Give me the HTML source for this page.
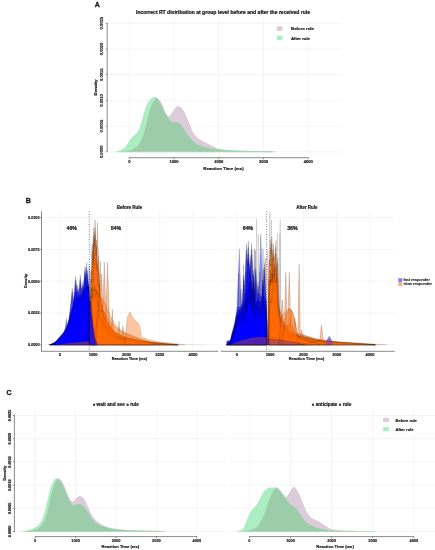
<!DOCTYPE html>
<html><head><meta charset="utf-8"><style>
html,body{margin:0;padding:0;background:#fff;width:435px;height:550px;overflow:hidden}
svg{display:block;will-change:transform}
</style></head><body>
<svg width="435" height="550" viewBox="0 0 435 550" shape-rendering="geometricPrecision">
<rect width="435" height="550" fill="#fff"/>
<line x1="129.3" y1="18" x2="129.3" y2="154" stroke="#ececec" stroke-width="0.6"/>
<line x1="174.02" y1="18" x2="174.02" y2="154" stroke="#ececec" stroke-width="0.6"/>
<line x1="218.74" y1="18" x2="218.74" y2="154" stroke="#ececec" stroke-width="0.6"/>
<line x1="263.46000000000004" y1="18" x2="263.46000000000004" y2="154" stroke="#ececec" stroke-width="0.6"/>
<line x1="308.18" y1="18" x2="308.18" y2="154" stroke="#ececec" stroke-width="0.6"/>
<line x1="110" y1="151.8" x2="342" y2="151.8" stroke="#ececec" stroke-width="0.6"/>
<line x1="110" y1="126.10000000000001" x2="342" y2="126.10000000000001" stroke="#ececec" stroke-width="0.6"/>
<line x1="110" y1="100.4" x2="342" y2="100.4" stroke="#ececec" stroke-width="0.6"/>
<line x1="110" y1="74.70000000000002" x2="342" y2="74.70000000000002" stroke="#ececec" stroke-width="0.6"/>
<line x1="110" y1="49.000000000000014" x2="342" y2="49.000000000000014" stroke="#ececec" stroke-width="0.6"/>
<line x1="110" y1="23.30000000000001" x2="342" y2="23.30000000000001" stroke="#ececec" stroke-width="0.6"/>
<clipPath id="cA"><path d="M121.00,151.70 C121.67,151.63 123.38,151.58 125.00,151.30 C126.62,151.02 128.83,150.68 130.70,150.00 C132.57,149.32 134.70,148.35 136.20,147.20 C137.70,146.05 138.55,145.05 139.70,143.10 C140.85,141.15 142.18,137.92 143.10,135.50 C144.02,133.08 144.52,131.13 145.20,128.60 C145.88,126.07 146.52,123.05 147.20,120.30 C147.88,117.55 148.48,114.85 149.30,112.10 C150.12,109.35 151.07,105.98 152.10,103.80 C153.13,101.62 154.58,99.87 155.50,99.00 C156.42,98.13 156.53,97.68 157.60,98.60 C158.67,99.52 160.62,102.13 161.90,104.50 C163.18,106.87 164.15,110.78 165.30,112.80 C166.45,114.82 167.65,116.60 168.80,116.60 C169.95,116.60 171.05,114.25 172.20,112.80 C173.35,111.35 174.67,108.93 175.70,107.90 C176.73,106.87 177.37,106.48 178.40,106.60 C179.43,106.72 180.75,107.23 181.90,108.60 C183.05,109.97 184.15,112.38 185.30,114.80 C186.45,117.22 187.65,120.33 188.80,123.10 C189.95,125.87 190.93,129.10 192.20,131.40 C193.47,133.70 194.55,135.17 196.40,136.90 C198.25,138.63 201.00,140.42 203.30,141.80 C205.60,143.18 208.25,144.27 210.20,145.20 C212.15,146.13 213.25,146.70 215.00,147.40 C216.75,148.10 216.30,148.78 220.70,149.40 C225.10,150.02 234.52,150.75 241.40,151.10 C248.28,151.45 256.40,151.40 262.00,151.50 C267.60,151.60 272.83,151.67 275.00,151.70 L275.00,151.80 L121.00,151.80 Z"/></clipPath>
<path d="M121.00,151.70 C121.67,151.63 123.38,151.58 125.00,151.30 C126.62,151.02 128.83,150.68 130.70,150.00 C132.57,149.32 134.70,148.35 136.20,147.20 C137.70,146.05 138.55,145.05 139.70,143.10 C140.85,141.15 142.18,137.92 143.10,135.50 C144.02,133.08 144.52,131.13 145.20,128.60 C145.88,126.07 146.52,123.05 147.20,120.30 C147.88,117.55 148.48,114.85 149.30,112.10 C150.12,109.35 151.07,105.98 152.10,103.80 C153.13,101.62 154.58,99.87 155.50,99.00 C156.42,98.13 156.53,97.68 157.60,98.60 C158.67,99.52 160.62,102.13 161.90,104.50 C163.18,106.87 164.15,110.78 165.30,112.80 C166.45,114.82 167.65,116.60 168.80,116.60 C169.95,116.60 171.05,114.25 172.20,112.80 C173.35,111.35 174.67,108.93 175.70,107.90 C176.73,106.87 177.37,106.48 178.40,106.60 C179.43,106.72 180.75,107.23 181.90,108.60 C183.05,109.97 184.15,112.38 185.30,114.80 C186.45,117.22 187.65,120.33 188.80,123.10 C189.95,125.87 190.93,129.10 192.20,131.40 C193.47,133.70 194.55,135.17 196.40,136.90 C198.25,138.63 201.00,140.42 203.30,141.80 C205.60,143.18 208.25,144.27 210.20,145.20 C212.15,146.13 213.25,146.70 215.00,147.40 C216.75,148.10 216.30,148.78 220.70,149.40 C225.10,150.02 234.52,150.75 241.40,151.10 C248.28,151.45 256.40,151.40 262.00,151.50 C267.60,151.60 272.83,151.67 275.00,151.70 L275.00,151.80 L121.00,151.80 Z" fill="#dccbd8" stroke="#c9b3c5" stroke-width="0.4"/>
<path d="M115.50,151.70 C115.92,151.65 116.62,151.92 118.00,151.40 C119.38,150.88 122.15,149.87 123.80,148.60 C125.45,147.33 126.52,145.63 127.90,143.80 C129.28,141.97 130.72,139.22 132.10,137.60 C133.48,135.98 134.93,135.60 136.20,134.10 C137.47,132.60 138.55,131.35 139.70,128.60 C140.85,125.85 142.07,121.05 143.10,117.60 C144.13,114.15 144.87,110.67 145.90,107.90 C146.93,105.13 148.28,102.62 149.30,101.00 C150.32,99.38 151.20,98.77 152.00,98.20 C152.80,97.63 153.27,97.58 154.10,97.60 C154.93,97.62 155.70,96.80 157.00,98.30 C158.30,99.80 160.40,103.85 161.90,106.60 C163.40,109.35 164.62,112.40 166.00,114.80 C167.38,117.20 168.82,119.73 170.20,121.00 C171.58,122.27 172.93,122.05 174.30,122.40 C175.67,122.75 177.02,122.30 178.40,123.10 C179.78,123.90 180.98,125.13 182.60,127.20 C184.22,129.27 186.03,132.85 188.10,135.50 C190.17,138.15 193.02,141.40 195.00,143.10 C196.98,144.80 198.33,144.97 200.00,145.70 C201.67,146.43 203.33,147.02 205.00,147.50 C206.67,147.98 207.50,148.18 210.00,148.60 C212.50,149.02 215.00,149.62 220.00,150.00 C225.00,150.38 231.43,150.62 240.00,150.90 C248.57,151.18 266.17,151.57 271.40,151.70 L271.40,151.80 L115.50,151.80 Z" fill="#aaeec2" stroke="#93d8aa" stroke-width="0.4"/>
<path d="M115.50,151.70 C115.92,151.65 116.62,151.92 118.00,151.40 C119.38,150.88 122.15,149.87 123.80,148.60 C125.45,147.33 126.52,145.63 127.90,143.80 C129.28,141.97 130.72,139.22 132.10,137.60 C133.48,135.98 134.93,135.60 136.20,134.10 C137.47,132.60 138.55,131.35 139.70,128.60 C140.85,125.85 142.07,121.05 143.10,117.60 C144.13,114.15 144.87,110.67 145.90,107.90 C146.93,105.13 148.28,102.62 149.30,101.00 C150.32,99.38 151.20,98.77 152.00,98.20 C152.80,97.63 153.27,97.58 154.10,97.60 C154.93,97.62 155.70,96.80 157.00,98.30 C158.30,99.80 160.40,103.85 161.90,106.60 C163.40,109.35 164.62,112.40 166.00,114.80 C167.38,117.20 168.82,119.73 170.20,121.00 C171.58,122.27 172.93,122.05 174.30,122.40 C175.67,122.75 177.02,122.30 178.40,123.10 C179.78,123.90 180.98,125.13 182.60,127.20 C184.22,129.27 186.03,132.85 188.10,135.50 C190.17,138.15 193.02,141.40 195.00,143.10 C196.98,144.80 198.33,144.97 200.00,145.70 C201.67,146.43 203.33,147.02 205.00,147.50 C206.67,147.98 207.50,148.18 210.00,148.60 C212.50,149.02 215.00,149.62 220.00,150.00 C225.00,150.38 231.43,150.62 240.00,150.90 C248.57,151.18 266.17,151.57 271.40,151.70 L271.40,151.80 L115.50,151.80 Z" fill="#9dccaa" clip-path="url(#cA)"/>
<line x1="107.2" y1="23.00000000000001" x2="107.2" y2="152.10000000000002" stroke="#3a3a3a" stroke-width="0.6"/>
<line x1="105.7" y1="151.8" x2="107.2" y2="151.8" stroke="#3a3a3a" stroke-width="0.5"/>
<text x="0" y="0" transform="translate(101.5,151.8) rotate(-90)" font-size="4.4" text-anchor="middle" dominant-baseline="central" textLength="12.6" lengthAdjust="spacingAndGlyphs" fill="#1a1a1a" stroke="#1a1a1a" stroke-width="0.198" font-family="Liberation Sans, sans-serif" font-weight="bold">0.0000</text>
<line x1="105.7" y1="126.10000000000001" x2="107.2" y2="126.10000000000001" stroke="#3a3a3a" stroke-width="0.5"/>
<text x="0" y="0" transform="translate(101.5,126.10000000000001) rotate(-90)" font-size="4.4" text-anchor="middle" dominant-baseline="central" textLength="12.6" lengthAdjust="spacingAndGlyphs" fill="#1a1a1a" stroke="#1a1a1a" stroke-width="0.198" font-family="Liberation Sans, sans-serif" font-weight="bold">0.0005</text>
<line x1="105.7" y1="100.4" x2="107.2" y2="100.4" stroke="#3a3a3a" stroke-width="0.5"/>
<text x="0" y="0" transform="translate(101.5,100.4) rotate(-90)" font-size="4.4" text-anchor="middle" dominant-baseline="central" textLength="12.6" lengthAdjust="spacingAndGlyphs" fill="#1a1a1a" stroke="#1a1a1a" stroke-width="0.198" font-family="Liberation Sans, sans-serif" font-weight="bold">0.0010</text>
<line x1="105.7" y1="74.70000000000002" x2="107.2" y2="74.70000000000002" stroke="#3a3a3a" stroke-width="0.5"/>
<text x="0" y="0" transform="translate(101.5,74.70000000000002) rotate(-90)" font-size="4.4" text-anchor="middle" dominant-baseline="central" textLength="12.6" lengthAdjust="spacingAndGlyphs" fill="#1a1a1a" stroke="#1a1a1a" stroke-width="0.198" font-family="Liberation Sans, sans-serif" font-weight="bold">0.0015</text>
<line x1="105.7" y1="49.000000000000014" x2="107.2" y2="49.000000000000014" stroke="#3a3a3a" stroke-width="0.5"/>
<text x="0" y="0" transform="translate(101.5,49.000000000000014) rotate(-90)" font-size="4.4" text-anchor="middle" dominant-baseline="central" textLength="12.6" lengthAdjust="spacingAndGlyphs" fill="#1a1a1a" stroke="#1a1a1a" stroke-width="0.198" font-family="Liberation Sans, sans-serif" font-weight="bold">0.0020</text>
<line x1="105.7" y1="23.30000000000001" x2="107.2" y2="23.30000000000001" stroke="#3a3a3a" stroke-width="0.5"/>
<text x="0" y="0" transform="translate(101.5,23.30000000000001) rotate(-90)" font-size="4.4" text-anchor="middle" dominant-baseline="central" textLength="12.6" lengthAdjust="spacingAndGlyphs" fill="#1a1a1a" stroke="#1a1a1a" stroke-width="0.198" font-family="Liberation Sans, sans-serif" font-weight="bold">0.0025</text>
<line x1="129.0" y1="157.7" x2="308.48" y2="157.7" stroke="#3a3a3a" stroke-width="0.6"/>
<line x1="129.3" y1="157.7" x2="129.3" y2="159.3" stroke="#3a3a3a" stroke-width="0.5"/>
<text x="129.3" y="161.7" font-size="4.1" text-anchor="middle" dominant-baseline="central" fill="#1a1a1a" stroke="#1a1a1a" stroke-width="0.184" font-family="Liberation Sans, sans-serif" font-weight="bold">0</text>
<line x1="174.02" y1="157.7" x2="174.02" y2="159.3" stroke="#3a3a3a" stroke-width="0.5"/>
<text x="174.02" y="161.7" font-size="4.1" text-anchor="middle" dominant-baseline="central" fill="#1a1a1a" stroke="#1a1a1a" stroke-width="0.184" font-family="Liberation Sans, sans-serif" font-weight="bold">1000</text>
<line x1="218.74" y1="157.7" x2="218.74" y2="159.3" stroke="#3a3a3a" stroke-width="0.5"/>
<text x="218.74" y="161.7" font-size="4.1" text-anchor="middle" dominant-baseline="central" fill="#1a1a1a" stroke="#1a1a1a" stroke-width="0.184" font-family="Liberation Sans, sans-serif" font-weight="bold">2000</text>
<line x1="263.46000000000004" y1="157.7" x2="263.46000000000004" y2="159.3" stroke="#3a3a3a" stroke-width="0.5"/>
<text x="263.46000000000004" y="161.7" font-size="4.1" text-anchor="middle" dominant-baseline="central" fill="#1a1a1a" stroke="#1a1a1a" stroke-width="0.184" font-family="Liberation Sans, sans-serif" font-weight="bold">3000</text>
<line x1="308.18" y1="157.7" x2="308.18" y2="159.3" stroke="#3a3a3a" stroke-width="0.5"/>
<text x="308.18" y="161.7" font-size="4.1" text-anchor="middle" dominant-baseline="central" fill="#1a1a1a" stroke="#1a1a1a" stroke-width="0.184" font-family="Liberation Sans, sans-serif" font-weight="bold">4000</text>
<text x="0" y="0" transform="translate(95,87.5) rotate(-90)" font-size="4.3" text-anchor="middle" dominant-baseline="central" textLength="16" lengthAdjust="spacingAndGlyphs" fill="#1a1a1a" stroke="#1a1a1a" stroke-width="0.193" font-family="Liberation Sans, sans-serif" font-weight="bold">Density</text>
<text x="223.5" y="168.2" font-size="4.3" text-anchor="middle" dominant-baseline="central" textLength="40.3" lengthAdjust="spacingAndGlyphs" fill="#1a1a1a" stroke="#1a1a1a" stroke-width="0.193" font-family="Liberation Sans, sans-serif" font-weight="bold">Reaction Time (ms)</text>
<text x="223" y="12" font-size="5.0" text-anchor="middle" dominant-baseline="central" textLength="174" lengthAdjust="spacingAndGlyphs" fill="#1a1a1a" stroke="#1a1a1a" stroke-width="0.225" font-family="Liberation Sans, sans-serif" font-weight="bold">Incorrect RT distribution at group level before and after the received rule</text>
<text x="97.2" y="4.5" font-size="7.0" text-anchor="middle" dominant-baseline="central" fill="#1a1a1a" stroke="#1a1a1a" stroke-width="0.315" font-family="Liberation Sans, sans-serif" font-weight="bold">A</text>
<rect x="272" y="24.2" width="50" height="18.2" fill="#fff"/>
<rect x="276.8" y="26.3" width="5.7" height="4.6" fill="#dccbd8"/>
<rect x="276.8" y="35.6" width="5.7" height="4.6" fill="#aaeec2"/>
<text x="291" y="28.6" font-size="4.3" text-anchor="start" dominant-baseline="central" textLength="23" lengthAdjust="spacingAndGlyphs" fill="#1a1a1a" stroke="#1a1a1a" stroke-width="0.193" font-family="Liberation Sans, sans-serif" font-weight="bold">Before rule</text>
<text x="291" y="38.0" font-size="4.3" text-anchor="start" dominant-baseline="central" textLength="19" lengthAdjust="spacingAndGlyphs" fill="#1a1a1a" stroke="#1a1a1a" stroke-width="0.193" font-family="Liberation Sans, sans-serif" font-weight="bold">After rule</text>
<line x1="35.2" y1="408.7" x2="35.2" y2="534" stroke="#ececec" stroke-width="0.6"/>
<line x1="75.6" y1="408.7" x2="75.6" y2="534" stroke="#ececec" stroke-width="0.6"/>
<line x1="116.0" y1="408.7" x2="116.0" y2="534" stroke="#ececec" stroke-width="0.6"/>
<line x1="156.39999999999998" y1="408.7" x2="156.39999999999998" y2="534" stroke="#ececec" stroke-width="0.6"/>
<line x1="196.8" y1="408.7" x2="196.8" y2="534" stroke="#ececec" stroke-width="0.6"/>
<line x1="15.5" y1="531.5" x2="226.6" y2="531.5" stroke="#ececec" stroke-width="0.6"/>
<line x1="15.5" y1="508.3" x2="226.6" y2="508.3" stroke="#ececec" stroke-width="0.6"/>
<line x1="15.5" y1="485.1" x2="226.6" y2="485.1" stroke="#ececec" stroke-width="0.6"/>
<line x1="15.5" y1="461.9" x2="226.6" y2="461.9" stroke="#ececec" stroke-width="0.6"/>
<line x1="15.5" y1="438.7" x2="226.6" y2="438.7" stroke="#ececec" stroke-width="0.6"/>
<line x1="15.5" y1="415.5" x2="226.6" y2="415.5" stroke="#ececec" stroke-width="0.6"/>
<line x1="249.4" y1="408.7" x2="249.4" y2="534" stroke="#ececec" stroke-width="0.6"/>
<line x1="290.5" y1="408.7" x2="290.5" y2="534" stroke="#ececec" stroke-width="0.6"/>
<line x1="331.6" y1="408.7" x2="331.6" y2="534" stroke="#ececec" stroke-width="0.6"/>
<line x1="372.70000000000005" y1="408.7" x2="372.70000000000005" y2="534" stroke="#ececec" stroke-width="0.6"/>
<line x1="413.8" y1="408.7" x2="413.8" y2="534" stroke="#ececec" stroke-width="0.6"/>
<line x1="229.4" y1="531.5" x2="435" y2="531.5" stroke="#ececec" stroke-width="0.6"/>
<line x1="229.4" y1="508.3" x2="435" y2="508.3" stroke="#ececec" stroke-width="0.6"/>
<line x1="229.4" y1="485.1" x2="435" y2="485.1" stroke="#ececec" stroke-width="0.6"/>
<line x1="229.4" y1="461.9" x2="435" y2="461.9" stroke="#ececec" stroke-width="0.6"/>
<line x1="229.4" y1="438.7" x2="435" y2="438.7" stroke="#ececec" stroke-width="0.6"/>
<line x1="229.4" y1="415.5" x2="435" y2="415.5" stroke="#ececec" stroke-width="0.6"/>
<clipPath id="cCL"><path d="M26.00,531.40 C26.83,531.32 29.33,531.20 31.00,530.90 C32.67,530.60 34.33,530.38 36.00,529.60 C37.67,528.82 39.50,527.88 41.00,526.20 C42.50,524.52 43.75,522.62 45.00,519.50 C46.25,516.38 47.45,511.67 48.50,507.50 C49.55,503.33 50.28,498.42 51.30,494.50 C52.32,490.58 53.38,486.58 54.60,484.00 C55.82,481.42 57.28,479.17 58.60,479.00 C59.92,478.83 61.27,481.00 62.50,483.00 C63.73,485.00 64.92,488.50 66.00,491.00 C67.08,493.50 67.87,496.17 69.00,498.00 C70.13,499.83 71.60,501.90 72.80,502.00 C74.00,502.10 74.95,499.55 76.20,498.60 C77.45,497.65 78.92,496.07 80.30,496.30 C81.68,496.53 83.23,498.12 84.50,500.00 C85.77,501.88 86.63,504.95 87.90,507.60 C89.17,510.25 90.48,513.48 92.10,515.90 C93.72,518.32 95.30,520.27 97.60,522.10 C99.90,523.93 102.92,525.75 105.90,526.90 C108.88,528.05 111.48,528.43 115.50,529.00 C119.52,529.57 124.25,529.97 130.00,530.30 C135.75,530.63 144.17,530.82 150.00,531.00 C155.83,531.18 162.50,531.33 165.00,531.40 L165.00,531.50 L26.00,531.50 Z"/></clipPath>
<path d="M26.00,531.40 C26.83,531.32 29.33,531.20 31.00,530.90 C32.67,530.60 34.33,530.38 36.00,529.60 C37.67,528.82 39.50,527.88 41.00,526.20 C42.50,524.52 43.75,522.62 45.00,519.50 C46.25,516.38 47.45,511.67 48.50,507.50 C49.55,503.33 50.28,498.42 51.30,494.50 C52.32,490.58 53.38,486.58 54.60,484.00 C55.82,481.42 57.28,479.17 58.60,479.00 C59.92,478.83 61.27,481.00 62.50,483.00 C63.73,485.00 64.92,488.50 66.00,491.00 C67.08,493.50 67.87,496.17 69.00,498.00 C70.13,499.83 71.60,501.90 72.80,502.00 C74.00,502.10 74.95,499.55 76.20,498.60 C77.45,497.65 78.92,496.07 80.30,496.30 C81.68,496.53 83.23,498.12 84.50,500.00 C85.77,501.88 86.63,504.95 87.90,507.60 C89.17,510.25 90.48,513.48 92.10,515.90 C93.72,518.32 95.30,520.27 97.60,522.10 C99.90,523.93 102.92,525.75 105.90,526.90 C108.88,528.05 111.48,528.43 115.50,529.00 C119.52,529.57 124.25,529.97 130.00,530.30 C135.75,530.63 144.17,530.82 150.00,531.00 C155.83,531.18 162.50,531.33 165.00,531.40 L165.00,531.50 L26.00,531.50 Z" fill="#dccbd8" stroke="#c9b3c5" stroke-width="0.4"/>
<path d="M22.80,531.40 C23.67,531.27 26.17,531.07 28.00,530.60 C29.83,530.13 31.92,529.62 33.80,528.60 C35.68,527.58 37.70,526.45 39.30,524.50 C40.90,522.55 42.13,520.23 43.40,516.90 C44.67,513.57 45.85,508.65 46.90,504.50 C47.95,500.35 48.67,495.68 49.70,492.00 C50.73,488.32 51.85,484.68 53.10,482.40 C54.35,480.12 55.82,478.30 57.20,478.30 C58.58,478.30 60.02,480.12 61.40,482.40 C62.78,484.68 64.23,489.02 65.50,492.00 C66.77,494.98 67.82,498.08 69.00,500.30 C70.18,502.52 71.28,504.58 72.60,505.30 C73.92,506.02 75.62,504.80 76.90,504.60 C78.18,504.40 79.15,503.72 80.30,504.10 C81.45,504.48 82.53,505.52 83.80,506.90 C85.07,508.28 86.52,510.33 87.90,512.40 C89.28,514.47 90.48,517.35 92.10,519.30 C93.72,521.25 95.30,522.72 97.60,524.10 C99.90,525.48 102.92,526.72 105.90,527.60 C108.88,528.48 111.48,528.87 115.50,529.40 C119.52,529.93 122.58,530.47 130.00,530.80 C137.42,531.13 155.00,531.30 160.00,531.40 L160.00,531.50 L22.80,531.50 Z" fill="#aaeec2" stroke="#93d8aa" stroke-width="0.4"/>
<path d="M22.80,531.40 C23.67,531.27 26.17,531.07 28.00,530.60 C29.83,530.13 31.92,529.62 33.80,528.60 C35.68,527.58 37.70,526.45 39.30,524.50 C40.90,522.55 42.13,520.23 43.40,516.90 C44.67,513.57 45.85,508.65 46.90,504.50 C47.95,500.35 48.67,495.68 49.70,492.00 C50.73,488.32 51.85,484.68 53.10,482.40 C54.35,480.12 55.82,478.30 57.20,478.30 C58.58,478.30 60.02,480.12 61.40,482.40 C62.78,484.68 64.23,489.02 65.50,492.00 C66.77,494.98 67.82,498.08 69.00,500.30 C70.18,502.52 71.28,504.58 72.60,505.30 C73.92,506.02 75.62,504.80 76.90,504.60 C78.18,504.40 79.15,503.72 80.30,504.10 C81.45,504.48 82.53,505.52 83.80,506.90 C85.07,508.28 86.52,510.33 87.90,512.40 C89.28,514.47 90.48,517.35 92.10,519.30 C93.72,521.25 95.30,522.72 97.60,524.10 C99.90,525.48 102.92,526.72 105.90,527.60 C108.88,528.48 111.48,528.87 115.50,529.40 C119.52,529.93 122.58,530.47 130.00,530.80 C137.42,531.13 155.00,531.30 160.00,531.40 L160.00,531.50 L22.80,531.50 Z" fill="#9dccaa" clip-path="url(#cCL)"/>
<clipPath id="cCR"><path d="M244.00,531.40 C244.43,531.28 245.27,531.02 246.60,530.70 C247.93,530.38 250.17,530.18 252.00,529.50 C253.83,528.82 255.75,528.70 257.60,526.60 C259.45,524.50 261.50,520.35 263.10,516.90 C264.70,513.45 265.93,509.35 267.20,505.90 C268.47,502.45 269.55,498.97 270.70,496.20 C271.85,493.43 273.07,490.68 274.10,489.30 C275.13,487.92 276.00,487.82 276.90,487.90 C277.80,487.98 278.65,488.87 279.50,489.80 C280.35,490.73 281.22,492.33 282.00,493.50 C282.78,494.67 283.45,496.18 284.20,496.80 C284.95,497.42 285.58,497.87 286.50,497.20 C287.42,496.53 288.48,494.47 289.70,492.80 C290.92,491.13 292.43,487.32 293.80,487.20 C295.17,487.08 296.52,489.68 297.90,492.10 C299.28,494.52 300.72,498.48 302.10,501.70 C303.48,504.92 304.60,508.63 306.20,511.40 C307.80,514.17 309.63,516.58 311.70,518.30 C313.77,520.02 316.53,520.55 318.60,521.70 C320.67,522.85 322.03,523.93 324.10,525.20 C326.17,526.47 328.35,528.38 331.00,529.30 C333.65,530.22 336.00,530.37 340.00,530.70 C344.00,531.03 352.50,531.20 355.00,531.30 L355.00,531.50 L244.00,531.50 Z"/></clipPath>
<path d="M244.00,531.40 C244.43,531.28 245.27,531.02 246.60,530.70 C247.93,530.38 250.17,530.18 252.00,529.50 C253.83,528.82 255.75,528.70 257.60,526.60 C259.45,524.50 261.50,520.35 263.10,516.90 C264.70,513.45 265.93,509.35 267.20,505.90 C268.47,502.45 269.55,498.97 270.70,496.20 C271.85,493.43 273.07,490.68 274.10,489.30 C275.13,487.92 276.00,487.82 276.90,487.90 C277.80,487.98 278.65,488.87 279.50,489.80 C280.35,490.73 281.22,492.33 282.00,493.50 C282.78,494.67 283.45,496.18 284.20,496.80 C284.95,497.42 285.58,497.87 286.50,497.20 C287.42,496.53 288.48,494.47 289.70,492.80 C290.92,491.13 292.43,487.32 293.80,487.20 C295.17,487.08 296.52,489.68 297.90,492.10 C299.28,494.52 300.72,498.48 302.10,501.70 C303.48,504.92 304.60,508.63 306.20,511.40 C307.80,514.17 309.63,516.58 311.70,518.30 C313.77,520.02 316.53,520.55 318.60,521.70 C320.67,522.85 322.03,523.93 324.10,525.20 C326.17,526.47 328.35,528.38 331.00,529.30 C333.65,530.22 336.00,530.37 340.00,530.70 C344.00,531.03 352.50,531.20 355.00,531.30 L355.00,531.50 L244.00,531.50 Z" fill="#dccbd8" stroke="#c9b3c5" stroke-width="0.4"/>
<path d="M237.50,531.50 C237.92,531.38 238.95,531.40 240.00,530.80 C241.05,530.20 242.48,529.98 243.80,527.90 C245.12,525.82 246.52,521.28 247.90,518.30 C249.28,515.32 250.72,512.07 252.10,510.00 C253.48,507.93 254.93,507.52 256.20,505.90 C257.47,504.28 258.43,502.60 259.70,500.30 C260.97,498.00 262.43,494.05 263.80,492.10 C265.17,490.15 266.62,489.32 267.90,488.60 C269.18,487.88 270.47,487.92 271.50,487.80 C272.53,487.68 273.20,487.83 274.10,487.90 C275.00,487.97 275.92,487.65 276.90,488.20 C277.88,488.75 278.80,489.98 280.00,491.20 C281.20,492.42 282.72,493.57 284.10,495.50 C285.48,497.43 286.92,501.03 288.30,502.80 C289.68,504.57 291.02,505.02 292.40,506.10 C293.78,507.18 295.22,507.73 296.60,509.30 C297.98,510.87 299.33,513.55 300.70,515.50 C302.07,517.45 303.20,519.38 304.80,521.00 C306.40,522.62 308.23,524.05 310.30,525.20 C312.37,526.35 314.67,527.10 317.20,527.90 C319.73,528.70 322.50,529.48 325.50,530.00 C328.50,530.52 326.95,530.75 335.20,531.00 C343.45,531.25 368.37,531.42 375.00,531.50 L375.00,531.50 L237.50,531.50 Z" fill="#aaeec2" stroke="#93d8aa" stroke-width="0.4"/>
<path d="M237.50,531.50 C237.92,531.38 238.95,531.40 240.00,530.80 C241.05,530.20 242.48,529.98 243.80,527.90 C245.12,525.82 246.52,521.28 247.90,518.30 C249.28,515.32 250.72,512.07 252.10,510.00 C253.48,507.93 254.93,507.52 256.20,505.90 C257.47,504.28 258.43,502.60 259.70,500.30 C260.97,498.00 262.43,494.05 263.80,492.10 C265.17,490.15 266.62,489.32 267.90,488.60 C269.18,487.88 270.47,487.92 271.50,487.80 C272.53,487.68 273.20,487.83 274.10,487.90 C275.00,487.97 275.92,487.65 276.90,488.20 C277.88,488.75 278.80,489.98 280.00,491.20 C281.20,492.42 282.72,493.57 284.10,495.50 C285.48,497.43 286.92,501.03 288.30,502.80 C289.68,504.57 291.02,505.02 292.40,506.10 C293.78,507.18 295.22,507.73 296.60,509.30 C297.98,510.87 299.33,513.55 300.70,515.50 C302.07,517.45 303.20,519.38 304.80,521.00 C306.40,522.62 308.23,524.05 310.30,525.20 C312.37,526.35 314.67,527.10 317.20,527.90 C319.73,528.70 322.50,529.48 325.50,530.00 C328.50,530.52 326.95,530.75 335.20,531.00 C343.45,531.25 368.37,531.42 375.00,531.50 L375.00,531.50 L237.50,531.50 Z" fill="#9dccaa" clip-path="url(#cCR)"/>
<line x1="14.4" y1="415.2" x2="14.4" y2="531.8" stroke="#3a3a3a" stroke-width="0.6"/>
<line x1="12.9" y1="531.5" x2="14.4" y2="531.5" stroke="#3a3a3a" stroke-width="0.5"/>
<text x="0" y="0" transform="translate(9.7,531.5) rotate(-90)" font-size="4.2" text-anchor="middle" dominant-baseline="central" textLength="11.5" lengthAdjust="spacingAndGlyphs" fill="#1a1a1a" stroke="#1a1a1a" stroke-width="0.189" font-family="Liberation Sans, sans-serif" font-weight="bold">0.0000</text>
<line x1="12.9" y1="508.3" x2="14.4" y2="508.3" stroke="#3a3a3a" stroke-width="0.5"/>
<text x="0" y="0" transform="translate(9.7,508.3) rotate(-90)" font-size="4.2" text-anchor="middle" dominant-baseline="central" textLength="11.5" lengthAdjust="spacingAndGlyphs" fill="#1a1a1a" stroke="#1a1a1a" stroke-width="0.189" font-family="Liberation Sans, sans-serif" font-weight="bold">0.0005</text>
<line x1="12.9" y1="485.1" x2="14.4" y2="485.1" stroke="#3a3a3a" stroke-width="0.5"/>
<text x="0" y="0" transform="translate(9.7,485.1) rotate(-90)" font-size="4.2" text-anchor="middle" dominant-baseline="central" textLength="11.5" lengthAdjust="spacingAndGlyphs" fill="#1a1a1a" stroke="#1a1a1a" stroke-width="0.189" font-family="Liberation Sans, sans-serif" font-weight="bold">0.0010</text>
<line x1="12.9" y1="461.9" x2="14.4" y2="461.9" stroke="#3a3a3a" stroke-width="0.5"/>
<text x="0" y="0" transform="translate(9.7,461.9) rotate(-90)" font-size="4.2" text-anchor="middle" dominant-baseline="central" textLength="11.5" lengthAdjust="spacingAndGlyphs" fill="#1a1a1a" stroke="#1a1a1a" stroke-width="0.189" font-family="Liberation Sans, sans-serif" font-weight="bold">0.0015</text>
<line x1="12.9" y1="438.7" x2="14.4" y2="438.7" stroke="#3a3a3a" stroke-width="0.5"/>
<text x="0" y="0" transform="translate(9.7,438.7) rotate(-90)" font-size="4.2" text-anchor="middle" dominant-baseline="central" textLength="11.5" lengthAdjust="spacingAndGlyphs" fill="#1a1a1a" stroke="#1a1a1a" stroke-width="0.189" font-family="Liberation Sans, sans-serif" font-weight="bold">0.0020</text>
<line x1="12.9" y1="415.5" x2="14.4" y2="415.5" stroke="#3a3a3a" stroke-width="0.5"/>
<text x="0" y="0" transform="translate(9.7,415.5) rotate(-90)" font-size="4.2" text-anchor="middle" dominant-baseline="central" textLength="11.5" lengthAdjust="spacingAndGlyphs" fill="#1a1a1a" stroke="#1a1a1a" stroke-width="0.189" font-family="Liberation Sans, sans-serif" font-weight="bold">0.0025</text>
<text x="0" y="0" transform="translate(4.6,473.3) rotate(-90)" font-size="4.0" text-anchor="middle" dominant-baseline="central" textLength="15" lengthAdjust="spacingAndGlyphs" fill="#1a1a1a" stroke="#1a1a1a" stroke-width="0.18" font-family="Liberation Sans, sans-serif" font-weight="bold">Density</text>
<line x1="34.900000000000006" y1="536.6" x2="197.10000000000002" y2="536.6" stroke="#3a3a3a" stroke-width="0.6"/>
<line x1="35.2" y1="536.6" x2="35.2" y2="538.2" stroke="#3a3a3a" stroke-width="0.5"/>
<text x="35.2" y="540.7" font-size="3.9" text-anchor="middle" dominant-baseline="central" fill="#1a1a1a" stroke="#1a1a1a" stroke-width="0.175" font-family="Liberation Sans, sans-serif" font-weight="bold">0</text>
<line x1="75.6" y1="536.6" x2="75.6" y2="538.2" stroke="#3a3a3a" stroke-width="0.5"/>
<text x="75.6" y="540.7" font-size="3.9" text-anchor="middle" dominant-baseline="central" fill="#1a1a1a" stroke="#1a1a1a" stroke-width="0.175" font-family="Liberation Sans, sans-serif" font-weight="bold">1000</text>
<line x1="116.0" y1="536.6" x2="116.0" y2="538.2" stroke="#3a3a3a" stroke-width="0.5"/>
<text x="116.0" y="540.7" font-size="3.9" text-anchor="middle" dominant-baseline="central" fill="#1a1a1a" stroke="#1a1a1a" stroke-width="0.175" font-family="Liberation Sans, sans-serif" font-weight="bold">2000</text>
<line x1="156.39999999999998" y1="536.6" x2="156.39999999999998" y2="538.2" stroke="#3a3a3a" stroke-width="0.5"/>
<text x="156.39999999999998" y="540.7" font-size="3.9" text-anchor="middle" dominant-baseline="central" fill="#1a1a1a" stroke="#1a1a1a" stroke-width="0.175" font-family="Liberation Sans, sans-serif" font-weight="bold">3000</text>
<line x1="196.8" y1="536.6" x2="196.8" y2="538.2" stroke="#3a3a3a" stroke-width="0.5"/>
<text x="196.8" y="540.7" font-size="3.9" text-anchor="middle" dominant-baseline="central" fill="#1a1a1a" stroke="#1a1a1a" stroke-width="0.175" font-family="Liberation Sans, sans-serif" font-weight="bold">4000</text>
<text x="120.3" y="546.3" font-size="4.0" text-anchor="middle" dominant-baseline="central" textLength="37.5" lengthAdjust="spacingAndGlyphs" fill="#1a1a1a" stroke="#1a1a1a" stroke-width="0.18" font-family="Liberation Sans, sans-serif" font-weight="bold">Reaction Time (ms)</text>
<line x1="249.1" y1="536.6" x2="414.1" y2="536.6" stroke="#3a3a3a" stroke-width="0.6"/>
<line x1="249.4" y1="536.6" x2="249.4" y2="538.2" stroke="#3a3a3a" stroke-width="0.5"/>
<text x="249.4" y="540.7" font-size="3.9" text-anchor="middle" dominant-baseline="central" fill="#1a1a1a" stroke="#1a1a1a" stroke-width="0.175" font-family="Liberation Sans, sans-serif" font-weight="bold">0</text>
<line x1="290.5" y1="536.6" x2="290.5" y2="538.2" stroke="#3a3a3a" stroke-width="0.5"/>
<text x="290.5" y="540.7" font-size="3.9" text-anchor="middle" dominant-baseline="central" fill="#1a1a1a" stroke="#1a1a1a" stroke-width="0.175" font-family="Liberation Sans, sans-serif" font-weight="bold">1000</text>
<line x1="331.6" y1="536.6" x2="331.6" y2="538.2" stroke="#3a3a3a" stroke-width="0.5"/>
<text x="331.6" y="540.7" font-size="3.9" text-anchor="middle" dominant-baseline="central" fill="#1a1a1a" stroke="#1a1a1a" stroke-width="0.175" font-family="Liberation Sans, sans-serif" font-weight="bold">2000</text>
<line x1="372.70000000000005" y1="536.6" x2="372.70000000000005" y2="538.2" stroke="#3a3a3a" stroke-width="0.5"/>
<text x="372.70000000000005" y="540.7" font-size="3.9" text-anchor="middle" dominant-baseline="central" fill="#1a1a1a" stroke="#1a1a1a" stroke-width="0.175" font-family="Liberation Sans, sans-serif" font-weight="bold">3000</text>
<line x1="413.8" y1="536.6" x2="413.8" y2="538.2" stroke="#3a3a3a" stroke-width="0.5"/>
<text x="413.8" y="540.7" font-size="3.9" text-anchor="middle" dominant-baseline="central" fill="#1a1a1a" stroke="#1a1a1a" stroke-width="0.175" font-family="Liberation Sans, sans-serif" font-weight="bold">4000</text>
<text x="335" y="546.3" font-size="4.0" text-anchor="middle" dominant-baseline="central" textLength="37.5" lengthAdjust="spacingAndGlyphs" fill="#1a1a1a" stroke="#1a1a1a" stroke-width="0.18" font-family="Liberation Sans, sans-serif" font-weight="bold">Reaction Time (ms)</text>
<text x="115.8" y="404" font-size="4.7" text-anchor="middle" dominant-baseline="central" textLength="46.3" lengthAdjust="spacingAndGlyphs" fill="#1a1a1a" stroke="#1a1a1a" stroke-width="0.211" font-family="Liberation Sans, sans-serif" font-weight="bold">« wait and see » rule</text>
<text x="331.5" y="404" font-size="4.7" text-anchor="middle" dominant-baseline="central" textLength="39.5" lengthAdjust="spacingAndGlyphs" fill="#1a1a1a" stroke="#1a1a1a" stroke-width="0.211" font-family="Liberation Sans, sans-serif" font-weight="bold">« anticipate » rule</text>
<text x="9.0" y="392.3" font-size="7.0" text-anchor="middle" dominant-baseline="central" fill="#1a1a1a" stroke="#1a1a1a" stroke-width="0.315" font-family="Liberation Sans, sans-serif" font-weight="bold">C</text>
<rect x="378" y="416" width="46" height="17.6" fill="#fff"/>
<rect x="383.1" y="417.7" width="5.9" height="4.2" fill="#dccbd8"/>
<rect x="383.1" y="427.1" width="5.9" height="4.2" fill="#aaeec2"/>
<text x="395.5" y="420.1" font-size="4.2" text-anchor="start" dominant-baseline="central" textLength="21.3" lengthAdjust="spacingAndGlyphs" fill="#1a1a1a" stroke="#1a1a1a" stroke-width="0.189" font-family="Liberation Sans, sans-serif" font-weight="bold">Before rule</text>
<text x="395.5" y="429.4" font-size="4.2" text-anchor="start" dominant-baseline="central" textLength="18" lengthAdjust="spacingAndGlyphs" fill="#1a1a1a" stroke="#1a1a1a" stroke-width="0.189" font-family="Liberation Sans, sans-serif" font-weight="bold">After rule</text>
<line x1="59.8" y1="211.5" x2="59.8" y2="351" stroke="#ececec" stroke-width="0.6"/>
<line x1="93.1" y1="211.5" x2="93.1" y2="351" stroke="#ececec" stroke-width="0.6"/>
<line x1="126.39999999999999" y1="211.5" x2="126.39999999999999" y2="351" stroke="#ececec" stroke-width="0.6"/>
<line x1="159.7" y1="211.5" x2="159.7" y2="351" stroke="#ececec" stroke-width="0.6"/>
<line x1="193.0" y1="211.5" x2="193.0" y2="351" stroke="#ececec" stroke-width="0.6"/>
<line x1="41.5" y1="344.8" x2="217.5" y2="344.8" stroke="#ececec" stroke-width="0.6"/>
<line x1="41.5" y1="313.0" x2="217.5" y2="313.0" stroke="#ececec" stroke-width="0.6"/>
<line x1="41.5" y1="281.2" x2="217.5" y2="281.2" stroke="#ececec" stroke-width="0.6"/>
<line x1="41.5" y1="249.4" x2="217.5" y2="249.4" stroke="#ececec" stroke-width="0.6"/>
<line x1="41.5" y1="217.60000000000002" x2="217.5" y2="217.60000000000002" stroke="#ececec" stroke-width="0.6"/>
<line x1="236.8" y1="211.5" x2="236.8" y2="351" stroke="#ececec" stroke-width="0.6"/>
<line x1="270.1" y1="211.5" x2="270.1" y2="351" stroke="#ececec" stroke-width="0.6"/>
<line x1="303.4" y1="211.5" x2="303.4" y2="351" stroke="#ececec" stroke-width="0.6"/>
<line x1="336.7" y1="211.5" x2="336.7" y2="351" stroke="#ececec" stroke-width="0.6"/>
<line x1="370.0" y1="211.5" x2="370.0" y2="351" stroke="#ececec" stroke-width="0.6"/>
<line x1="221" y1="344.8" x2="394.5" y2="344.8" stroke="#ececec" stroke-width="0.6"/>
<line x1="221" y1="313.0" x2="394.5" y2="313.0" stroke="#ececec" stroke-width="0.6"/>
<line x1="221" y1="281.2" x2="394.5" y2="281.2" stroke="#ececec" stroke-width="0.6"/>
<line x1="221" y1="249.4" x2="394.5" y2="249.4" stroke="#ececec" stroke-width="0.6"/>
<line x1="221" y1="217.60000000000002" x2="394.5" y2="217.60000000000002" stroke="#ececec" stroke-width="0.6"/>
<path d="M255.2,344.8 L255.6,331.1 L255.9,303.2 L256.2,265.2 L256.6,218.6 L256.9,265.2 L257.3,303.2 L257.6,331.1 L258.0,344.8 Z" fill="#cccccc" fill-opacity="0.3" stroke="#000" stroke-opacity="0.39" stroke-width="0.28" stroke-linejoin="round"/>
<path d="M256.7,344.8 L257.0,336.4 L257.3,319.2 L257.7,295.9 L258.0,267.3 L258.3,234.0 L258.6,267.3 L258.9,295.9 L259.3,319.2 L259.6,336.4 L259.9,344.8 Z" fill="#cccccc" fill-opacity="0.3" stroke="#000" stroke-opacity="0.39" stroke-width="0.28" stroke-linejoin="round"/>
<path d="M268.6,344.8 L268.9,327.2 L269.3,290.2 L269.6,241.2 L269.8,212.5 L270.0,241.2 L270.3,290.2 L270.7,327.2 L271.0,344.8 Z" fill="#cccccc" fill-opacity="0.3" stroke="#000" stroke-opacity="0.39" stroke-width="0.28" stroke-linejoin="round"/>
<path d="M269.7,344.8 L270.0,336.5 L270.4,320.4 L270.7,297.7 L271.0,269.9 L271.3,237.4 L271.5,220.2 L271.7,237.4 L272.0,269.9 L272.3,297.7 L272.6,320.4 L273.0,336.5 L273.3,344.8 Z" fill="#cccccc" fill-opacity="0.3" stroke="#000" stroke-opacity="0.39" stroke-width="0.28" stroke-linejoin="round"/>
<path d="M278.8,344.8 L279.1,331.2 L279.5,303.5 L279.9,265.7 L280.2,219.5 L280.6,265.7 L280.9,303.5 L281.2,331.2 L281.6,344.8 Z" fill="#cccccc" fill-opacity="0.3" stroke="#000" stroke-opacity="0.39" stroke-width="0.28" stroke-linejoin="round"/>
<path d="M274.7,344.8 L275.0,341.2 L275.4,333.8 L275.7,323.7 L276.0,311.3 L276.4,297.0 L276.7,280.8 L277.0,262.8 L277.3,243.3 L277.5,233.3 L277.7,243.3 L278.0,262.8 L278.3,280.8 L278.6,297.0 L279.0,311.3 L279.3,323.7 L279.6,333.8 L280.0,341.2 L280.3,344.8 Z" fill="#cccccc" fill-opacity="0.3" stroke="#000" stroke-opacity="0.39" stroke-width="0.28" stroke-linejoin="round"/>
<path d="M277.4,344.8 L277.7,339.9 L278.1,329.6 L278.4,316.0 L278.8,299.3 L279.1,280.0 L279.5,257.5 L279.8,233.3 L280.1,257.5 L280.5,280.0 L280.8,299.3 L281.2,316.0 L281.5,329.6 L281.9,339.9 L282.2,344.8 Z" fill="#cccccc" fill-opacity="0.3" stroke="#000" stroke-opacity="0.39" stroke-width="0.28" stroke-linejoin="round"/>
<path d="M92.0,344.8 L92.3,334.4 L92.7,312.6 L93.0,283.7 L93.3,248.4 L93.5,228.0 L93.7,248.4 L94.0,283.7 L94.3,312.6 L94.7,334.4 L95.0,344.8 Z" fill="#cccccc" fill-opacity="0.3" stroke="#000" stroke-opacity="0.39" stroke-width="0.28" stroke-linejoin="round"/>
<path d="M49.6,344.8 L53.0,343.5 L56.0,341.3 L64.0,331.5 L67.1,325.1 L69.0,319.5 L70.3,313.9 L72.5,306.5 L74.0,298.2 L76.0,291.8 L78.0,292.0 L79.0,289.5 L79.3,288.1 L80.2,279.3 L80.7,285.0 L81.0,287.9 L82.0,288.9 L83.5,285.9 L83.8,282.2 L84.5,274.2 L84.8,271.2 L85.2,276.5 L85.6,279.1 L86.1,272.8 L86.6,278.9 L87.0,281.2 L88.0,282.4 L89.2,287.0 L89.2,306.5 L89.8,311.4 L90.5,317.5 L90.8,320.3 L91.2,323.1 L91.5,325.7 L91.9,328.2 L92.2,330.5 L92.6,332.7 L92.9,334.8 L93.3,336.7 L93.6,338.5 L94.0,340.1 L94.3,341.5 L94.7,342.7 L95.0,343.7 L95.4,344.4 L95.7,344.8 Z" fill="#0000ff" fill-opacity="0.45" stroke="#000" stroke-opacity="0.52" stroke-width="0.28" stroke-linejoin="round"/>
<path d="M49.9,344.8 L53.3,343.5 L56.3,341.4 L58.6,338.5 L61.4,335.3 L64.3,331.8 L67.4,325.3 L69.3,319.8 L70.8,313.9 L72.8,306.8 L74.0,299.9 L74.3,297.7 L75.0,291.8 L75.9,284.5 L76.4,289.5 L76.8,292.5 L77.1,292.7 L77.7,285.0 L78.3,292.8 L78.5,295.3 L78.9,291.6 L79.6,283.6 L80.3,275.1 L81.0,283.5 L81.7,291.6 L82.0,294.0 L82.3,294.4 L84.3,288.1 L84.8,287.1 L85.2,285.1 L85.5,279.9 L85.9,274.6 L86.3,267.8 L86.6,263.0 L86.9,268.2 L87.3,273.7 L87.6,278.9 L88.0,284.1 L88.3,284.2 L89.0,287.9 L89.2,301.8 L89.7,307.6 L90.1,311.8 L90.4,315.7 L90.8,319.5 L91.1,323.1 L91.5,326.5 L91.8,329.6 L92.2,332.5 L92.5,335.2 L92.8,337.6 L93.2,339.8 L93.5,341.6 L93.9,343.1 L94.2,344.3 L94.6,344.8 Z" fill="#0000ff" fill-opacity="0.45" stroke="#000" stroke-opacity="0.52" stroke-width="0.28" stroke-linejoin="round"/>
<path d="M49.3,344.8 L52.7,343.6 L55.7,341.5 L60.7,336.3 L63.7,332.5 L66.8,326.7 L68.7,320.8 L72.2,307.8 L73.7,302.4 L75.7,295.1 L77.7,298.2 L79.7,294.6 L81.7,294.6 L83.7,289.5 L85.7,287.5 L86.6,287.9 L87.0,286.5 L87.3,280.8 L87.7,274.5 L88.0,279.9 L88.4,285.6 L88.7,289.0 L88.9,289.1 L89.0,294.6 L89.4,301.3 L89.8,306.2 L90.1,310.8 L90.5,315.3 L90.8,319.5 L91.2,323.4 L91.5,327.1 L91.9,330.5 L92.2,333.6 L92.5,336.4 L92.9,338.9 L93.2,341.1 L93.6,342.9 L94.0,344.2 L94.3,344.8 Z" fill="#0000ff" fill-opacity="0.45" stroke="#000" stroke-opacity="0.52" stroke-width="0.28" stroke-linejoin="round"/>
<path d="M50.1,344.8 L53.5,343.6 L56.5,341.7 L58.8,339.3 L61.5,336.4 L64.1,334.0 L64.4,332.8 L64.8,330.6 L65.1,328.2 L65.5,325.6 L65.8,322.9 L66.4,318.4 L66.9,322.5 L67.2,325.2 L67.6,327.3 L68.3,325.6 L68.6,322.9 L69.0,320.0 L69.7,314.0 L70.0,310.8 L70.4,307.5 L71.1,300.5 L71.8,293.0 L72.2,288.3 L73.0,296.9 L73.2,298.8 L73.5,299.8 L74.2,292.3 L74.9,284.4 L75.6,276.3 L76.3,284.8 L77.0,292.7 L77.4,296.5 L77.7,298.9 L78.5,299.3 L78.8,298.9 L79.1,296.1 L79.8,290.2 L80.6,283.5 L81.2,289.2 L81.6,292.2 L81.9,292.8 L82.7,282.0 L83.0,285.9 L83.3,290.0 L84.0,283.3 L84.8,275.9 L85.4,282.5 L85.8,285.9 L86.1,288.0 L86.5,287.3 L88.5,290.5 L88.9,292.5 L89.2,315.6 L90.0,320.7 L90.7,325.3 L91.4,329.6 L92.1,333.4 L92.8,336.9 L93.1,338.4 L93.5,339.8 L93.8,341.1 L94.2,342.2 L94.5,343.1 L94.9,343.9 L95.2,344.5 L95.6,344.8 Z" fill="#0000ff" fill-opacity="0.45" stroke="#000" stroke-opacity="0.52" stroke-width="0.28" stroke-linejoin="round"/>
<path d="M50.4,344.8 L53.8,343.8 L56.8,341.9 L61.9,337.4 L64.8,334.6 L67.1,330.3 L67.5,329.3 L68.2,324.8 L68.8,320.0 L69.5,314.7 L70.2,309.1 L71.1,301.6 L71.6,296.8 L72.2,291.7 L72.7,296.4 L73.4,302.7 L73.7,300.8 L74.4,294.3 L75.1,287.6 L75.8,280.4 L76.5,287.5 L77.2,294.2 L77.5,293.6 L78.0,288.6 L78.6,295.4 L78.9,299.3 L79.3,303.0 L79.6,302.2 L80.8,298.7 L81.0,299.0 L81.4,299.1 L81.7,295.2 L82.1,291.2 L82.5,285.8 L83.1,292.9 L83.5,297.0 L83.8,297.9 L84.2,293.8 L84.8,285.1 L85.2,280.6 L85.5,276.1 L86.1,267.9 L86.9,278.7 L87.3,283.2 L87.6,287.7 L88.0,292.0 L88.3,293.8 L88.8,294.2 L89.0,296.3 L89.2,306.5 L89.7,311.5 L90.1,315.0 L90.4,318.2 L90.8,321.5 L91.1,324.5 L91.5,327.4 L91.8,330.1 L92.2,332.6 L92.5,334.9 L92.8,337.1 L93.2,339.1 L93.5,340.8 L93.9,342.2 L94.2,343.5 L94.6,344.4 L94.9,344.8 Z" fill="#0000ff" fill-opacity="0.45" stroke="#000" stroke-opacity="0.52" stroke-width="0.28" stroke-linejoin="round"/>
<path d="M50.6,344.8 L54.0,343.9 L57.0,342.6 L59.4,340.5 L62.0,338.7 L65.0,336.0 L68.1,332.3 L70.0,327.4 L71.3,324.7 L73.5,317.9 L75.0,315.0 L77.0,309.1 L79.0,310.4 L81.0,309.5 L81.4,309.4 L81.7,306.6 L82.1,302.8 L82.4,298.8 L83.1,290.6 L83.5,286.3 L83.8,281.9 L84.2,277.3 L84.5,272.7 L85.0,266.5 L85.6,274.7 L85.9,279.3 L86.3,283.8 L86.6,288.2 L87.0,281.6 L87.3,275.3 L87.6,270.0 L88.0,278.4 L88.4,284.9 L88.7,291.2 L89.2,300.1 L89.8,308.5 L90.1,313.7 L90.5,318.5 L90.8,323.1 L91.2,327.3 L91.5,331.2 L91.9,334.7 L92.2,337.8 L92.6,340.4 L92.9,342.3 L93.3,343.5 L93.6,344.4 L94.0,344.8 Z" fill="#0000ff" fill-opacity="0.45" stroke="#000" stroke-opacity="0.52" stroke-width="0.28" stroke-linejoin="round"/>
<path d="M50.9,344.8 L54.3,343.6 L57.3,341.5 L59.6,338.7 L62.4,335.9 L65.3,332.7 L68.4,327.1 L70.3,320.1 L71.6,314.5 L73.9,306.1 L75.3,301.2 L77.3,296.9 L79.3,297.7 L81.3,294.8 L83.3,295.9 L85.3,291.0 L87.3,286.6 L88.9,287.2 L89.2,344.8 Z" fill="#0000ff" fill-opacity="0.45" stroke="#000" stroke-opacity="0.52" stroke-width="0.28" stroke-linejoin="round"/>
<path d="M48.4,344.8 L51.8,344.2 L54.8,343.1 L57.1,341.7 L59.8,340.3 L62.8,338.7 L65.9,335.2 L67.8,332.5 L69.1,329.3 L71.3,325.8 L72.8,321.8 L74.8,320.5 L76.9,319.5 L78.8,318.3 L80.8,318.9 L82.8,315.1 L84.8,314.4 L86.8,314.4 L88.0,315.1 L88.0,344.8 Z" fill="#0000ff" fill-opacity="0.45" stroke="#000" stroke-opacity="0.52" stroke-width="0.28" stroke-linejoin="round"/>
<path d="M50.3,344.8 L53.7,343.6 L56.7,341.7 L59.0,339.1 L61.7,336.8 L64.7,333.4 L67.8,328.6 L69.7,323.2 L71.2,317.4 L73.3,309.3 L74.7,304.0 L76.7,298.0 L78.7,300.2 L80.7,296.9 L82.7,299.3 L86.7,288.3 L88.7,290.8 L88.9,291.6 L89.2,344.8 Z" fill="#0000ff" fill-opacity="0.45" stroke="#000" stroke-opacity="0.52" stroke-width="0.28" stroke-linejoin="round"/>
<path d="M49.0,344.8 L52.4,343.7 L55.4,341.9 L60.5,337.2 L63.4,334.6 L66.5,329.2 L68.4,323.9 L69.7,318.9 L71.9,312.9 L73.4,307.2 L75.4,303.4 L77.4,304.0 L79.4,300.3 L81.4,303.1 L83.4,296.7 L85.4,296.4 L87.4,298.2 L88.6,298.8 L88.7,344.8 Z" fill="#0000ff" fill-opacity="0.45" stroke="#000" stroke-opacity="0.52" stroke-width="0.28" stroke-linejoin="round"/>
<path d="M87.5,344.8 L88.5,299.6 L88.8,281.2 L89.0,266.0 L89.2,270.4 L89.2,270.0 L89.3,295.1 L89.5,313.8 L89.9,334.3 L90.2,344.8 Z" fill="#0000ff" fill-opacity="0.3" stroke="#000" stroke-opacity="0.26" stroke-width="0.28" stroke-linejoin="round"/>
<path d="M89.2,344.8 L89.3,264.0 L90.2,272.0 L91.2,292.0 L91.5,344.8 Z" fill="#0000ff" fill-opacity="0.22" stroke="#000" stroke-opacity="0.195" stroke-width="0.28" stroke-linejoin="round"/>
<path d="M55.0,344.8 L75.0,342.4 L85.0,341.4 L92.0,341.8 L100.0,344.8 Z" fill="#ff6600" fill-opacity="0.38" stroke="#000" stroke-opacity="0.39" stroke-width="0.28" stroke-linejoin="round"/>
<path d="M90.6,344.8 L90.7,308.7 L91.0,289.6 L91.4,270.7 L91.9,275.8 L92.5,261.9 L93.0,264.9 L93.3,261.6 L93.4,257.9 L93.8,246.0 L94.0,238.7 L94.2,245.2 L94.5,253.5 L94.8,260.9 L95.0,262.5 L95.6,251.5 L95.8,254.2 L96.2,253.6 L96.3,249.9 L96.6,240.0 L96.9,248.8 L97.2,260.4 L97.6,266.9 L97.8,269.3 L97.9,265.6 L98.3,255.7 L98.6,263.2 L99.0,272.4 L99.3,282.6 L99.5,286.5 L101.0,300.1 L102.5,306.0 L102.8,306.7 L103.2,297.1 L103.5,286.7 L103.9,275.9 L104.3,261.9 L104.6,271.7 L105.0,285.3 L105.3,293.7 L105.6,303.5 L106.0,312.6 L106.3,318.0 L107.6,321.3 L111.0,326.9 L111.2,327.2 L111.6,322.0 L111.9,316.1 L112.3,309.4 L112.6,315.4 L113.0,321.3 L113.3,326.8 L113.7,330.5 L114.0,330.9 L117.0,333.4 L125.0,336.7 L130.1,338.1 L140.0,340.3 L150.0,341.9 L170.0,344.2 L178.0,344.8 Z" fill="#ff6600" fill-opacity="0.45" stroke="#000" stroke-opacity="0.52" stroke-width="0.28" stroke-linejoin="round"/>
<path d="M90.3,344.8 L90.4,328.4 L90.5,312.6 L90.8,293.8 L91.2,271.4 L91.4,272.8 L91.7,269.7 L92.1,259.5 L92.4,251.0 L92.8,260.5 L93.1,270.5 L93.5,267.8 L94.0,262.3 L94.8,269.5 L95.4,257.7 L96.1,264.7 L96.8,262.2 L97.6,270.6 L98.4,269.0 L99.3,286.5 L100.8,302.0 L102.3,307.1 L104.8,315.1 L107.4,322.2 L113.8,331.1 L116.8,333.4 L117.6,333.9 L118.0,333.0 L118.3,329.0 L118.7,324.5 L118.9,320.9 L119.4,326.8 L119.7,331.0 L120.1,334.8 L120.4,335.4 L124.8,337.3 L129.9,338.1 L139.8,340.4 L149.8,342.0 L169.8,344.2 L177.8,344.8 Z" fill="#ff6600" fill-opacity="0.45" stroke="#000" stroke-opacity="0.52" stroke-width="0.28" stroke-linejoin="round"/>
<path d="M90.0,344.8 L90.0,341.1 L90.4,305.7 L90.7,287.2 L90.9,280.3 L91.1,272.8 L91.3,265.1 L91.4,260.4 L91.8,249.3 L91.9,245.0 L92.5,261.7 L92.8,248.6 L93.2,236.3 L93.5,246.5 L93.6,249.0 L93.9,259.3 L94.2,252.8 L94.5,243.1 L94.6,240.4 L94.9,229.6 L95.0,227.4 L95.3,236.1 L95.6,247.1 L95.9,257.4 L96.0,260.8 L96.3,267.7 L96.6,270.2 L97.3,264.1 L98.1,273.9 L98.9,273.0 L99.8,290.2 L101.3,301.5 L102.8,311.0 L105.3,318.6 L107.9,324.0 L111.3,328.5 L114.3,332.3 L117.3,333.6 L121.3,336.0 L125.3,337.6 L130.5,338.8 L140.3,340.7 L150.3,342.3 L170.3,344.3 L178.3,344.8 Z" fill="#ff6600" fill-opacity="0.45" stroke="#000" stroke-opacity="0.52" stroke-width="0.28" stroke-linejoin="round"/>
<path d="M90.3,344.8 L90.4,314.7 L90.7,297.0 L91.1,279.2 L91.6,282.8 L92.2,272.0 L92.4,265.4 L92.8,254.3 L93.2,242.8 L93.5,250.8 L93.8,261.4 L93.9,264.7 L94.2,258.0 L94.5,241.7 L94.7,233.7 L94.8,228.4 L95.1,219.9 L95.3,227.3 L95.5,236.3 L95.9,251.5 L96.0,256.9 L96.2,270.4 L96.6,260.3 L96.7,254.2 L96.9,242.3 L97.3,227.6 L97.4,222.6 L97.6,231.1 L98.0,246.5 L98.3,250.3 L98.3,250.8 L98.7,261.1 L99.0,272.3 L99.2,277.8 L99.7,297.7 L100.7,307.4 L102.2,312.5 L104.7,318.9 L105.3,320.1 L105.7,317.6 L106.0,309.1 L106.4,299.7 L106.7,289.6 L107.1,278.8 L107.4,267.2 L107.6,262.4 L107.8,269.7 L108.1,281.1 L108.5,291.8 L108.8,301.8 L109.2,310.9 L109.5,319.3 L109.9,326.7 L110.2,328.0 L113.7,332.3 L116.7,334.9 L120.7,336.5 L129.7,339.0 L139.7,340.9 L149.7,342.5 L159.9,343.3 L169.7,344.3 L177.7,344.8 Z" fill="#ff6600" fill-opacity="0.45" stroke="#000" stroke-opacity="0.52" stroke-width="0.28" stroke-linejoin="round"/>
<path d="M91.1,344.8 L91.2,319.0 L91.5,302.8 L91.9,288.8 L92.4,290.9 L93.0,279.0 L93.2,280.6 L93.5,261.9 L93.8,250.8 L93.9,246.7 L94.2,233.5 L94.3,231.9 L94.6,243.0 L94.7,247.0 L95.0,241.9 L95.2,234.9 L95.5,241.9 L95.6,245.7 L96.0,256.0 L96.1,254.4 L96.4,246.3 L96.7,254.0 L97.0,264.3 L97.4,275.7 L97.5,279.6 L97.7,282.4 L98.3,286.4 L99.1,284.2 L100.0,298.4 L101.5,309.2 L103.0,315.4 L105.5,321.6 L108.1,327.3 L111.5,330.5 L114.5,333.5 L117.5,336.2 L121.5,337.6 L121.9,336.5 L122.2,333.4 L122.6,330.0 L122.9,326.0 L123.3,329.5 L123.6,332.9 L124.0,336.0 L124.3,338.5 L125.7,338.9 L130.6,339.6 L140.5,341.5 L150.5,342.7 L170.5,344.4 L178.5,344.8 Z" fill="#ff6600" fill-opacity="0.45" stroke="#000" stroke-opacity="0.52" stroke-width="0.28" stroke-linejoin="round"/>
<path d="M91.4,344.8 L91.5,323.2 L91.8,309.7 L92.2,296.0 L92.7,302.3 L93.3,294.0 L94.1,298.9 L95.0,289.0 L95.8,295.4 L96.4,289.9 L97.1,294.1 L97.8,292.4 L98.6,297.3 L99.1,297.6 L99.4,291.9 L99.8,277.8 L100.2,261.3 L100.5,272.7 L100.8,285.9 L101.2,291.3 L101.5,280.3 L101.7,274.0 L101.9,279.2 L102.2,290.3 L102.6,300.5 L102.9,310.0 L103.3,318.8 L103.6,322.8 L105.8,327.0 L108.4,329.5 L111.8,333.9 L114.8,336.3 L117.8,337.6 L125.8,339.9 L130.9,340.5 L140.8,342.1 L150.8,343.1 L170.8,344.4 L178.8,344.8 Z" fill="#ff6600" fill-opacity="0.45" stroke="#000" stroke-opacity="0.52" stroke-width="0.28" stroke-linejoin="round"/>
<path d="M89.4,344.8 L89.5,325.3 L89.8,313.9 L90.2,302.1 L90.7,306.0 L91.3,295.5 L92.1,299.4 L93.0,296.1 L93.8,297.0 L94.4,294.8 L95.1,296.3 L95.8,296.8 L96.6,302.2 L97.4,302.5 L98.3,311.0 L99.8,319.6 L103.8,328.1 L106.5,331.2 L109.8,334.7 L112.8,336.9 L116.0,338.1 L119.8,339.4 L124.0,340.0 L138.8,342.3 L148.8,343.2 L168.8,344.5 L176.8,344.8 Z" fill="#ff6600" fill-opacity="0.45" stroke="#000" stroke-opacity="0.52" stroke-width="0.28" stroke-linejoin="round"/>
<path d="M89.6,344.8 L89.6,344.8 L89.7,321.6 L90.0,308.9 L90.4,296.1 L90.9,299.0 L91.5,287.6 L92.3,296.4 L93.2,288.8 L94.0,290.6 L94.6,286.2 L95.3,290.6 L96.0,289.9 L96.8,294.2 L97.6,293.9 L98.5,306.0 L100.0,316.3 L104.0,324.9 L106.6,329.5 L110.0,333.3 L113.0,335.6 L116.0,337.1 L120.0,338.8 L124.0,339.6 L129.1,340.3 L139.0,342.0 L149.0,342.9 L169.0,344.4 L177.0,344.8 Z" fill="#ff6600" fill-opacity="0.45" stroke="#000" stroke-opacity="0.52" stroke-width="0.28" stroke-linejoin="round"/>
<path d="M96.0,344.8 L99.0,300.0 L102.0,298.0 L106.0,306.0 L110.0,316.0 L116.0,326.0 L125.0,333.0 L140.0,339.0 L160.0,344.8 Z" fill="#ff6600" fill-opacity="0.3" stroke="#000" stroke-opacity="0.52" stroke-width="0.28" stroke-linejoin="round"/>
<path d="M94.0,344.8 L98.0,310.0 L104.0,312.0 L110.0,322.0 L120.0,331.0 L135.1,337.1 L155.0,344.8 Z" fill="#ff6600" fill-opacity="0.3" stroke="#000" stroke-opacity="0.52" stroke-width="0.28" stroke-linejoin="round"/>
<path d="M89.2,344.8 L89.6,300.2 L90.9,301.0 L91.8,312.6 L93.0,325.3 L94.9,337.9 L96.8,343.0 L97.5,344.8 Z" fill="#0000ff" fill-opacity="0.6" stroke="#000" stroke-opacity="0.5850000000000001" stroke-width="0.28" stroke-linejoin="round"/>
<path d="M89.2,344.8 L89.6,310.7 L91.2,314.0 L92.5,325.0 L94.0,336.0 L95.5,344.8 Z" fill="#0000ff" fill-opacity="0.5" stroke="#000" stroke-opacity="0.5850000000000001" stroke-width="0.28" stroke-linejoin="round"/>
<path d="M124.5,344.8 L125.7,333.0 L127.6,316.5 L130.1,312.1 L132.6,317.8 L139.0,324.1 L140.5,330.0 L141.5,337.0 L150.0,340.0 L160.0,342.0 L175.0,343.6 L185.0,344.8 Z" fill="#ff6600" fill-opacity="0.38" stroke="#000" stroke-opacity="0.45499999999999996" stroke-width="0.28" stroke-linejoin="round"/>
<path d="M170.0,344.8 L185.0,344.0 L200.0,344.2 L210.0,344.8 Z" fill="#c0c0c0" fill-opacity="0.5" stroke="#000" stroke-opacity="0.0" stroke-width="0.28" stroke-linejoin="round"/>
<path d="M226.8,344.8 L228.5,342.8 L230.5,340.7 L232.1,332.5 L234.7,323.1 L236.0,314.4 L237.5,307.2 L240.5,306.6 L242.5,302.9 L245.0,299.3 L245.9,292.5 L246.3,289.4 L246.7,284.4 L247.0,279.3 L247.3,274.1 L247.7,268.8 L248.3,259.7 L248.7,267.4 L249.1,272.9 L249.4,273.6 L250.0,274.0 L251.5,285.7 L253.0,291.7 L254.3,294.5 L254.7,292.4 L255.0,286.4 L255.5,277.7 L255.8,272.4 L256.1,277.3 L256.4,283.6 L256.8,289.7 L257.1,294.8 L258.3,293.1 L258.5,293.3 L258.8,289.1 L259.2,280.3 L259.5,271.0 L259.9,261.5 L260.2,251.4 L260.6,240.8 L260.8,234.0 L261.3,248.9 L261.6,258.9 L262.0,268.8 L262.3,278.2 L262.7,287.1 L263.0,295.5 L263.4,296.7 L264.0,296.3 L266.4,300.0 L266.5,344.8 Z" fill="#0000ff" fill-opacity="0.45" stroke="#000" stroke-opacity="0.52" stroke-width="0.28" stroke-linejoin="round"/>
<path d="M227.1,344.8 L228.8,342.9 L230.8,340.9 L232.4,333.2 L235.0,324.3 L236.3,316.4 L237.8,310.5 L240.8,308.2 L242.8,305.8 L245.3,301.9 L245.6,297.3 L245.9,291.2 L246.3,284.9 L246.6,278.3 L247.0,271.6 L247.3,264.5 L247.7,257.2 L248.1,247.2 L248.4,252.5 L248.8,261.7 L249.1,267.3 L249.4,274.3 L249.8,278.5 L250.1,278.2 L250.5,270.4 L250.8,262.3 L251.2,254.0 L251.6,243.0 L251.9,249.5 L252.2,257.8 L252.6,266.1 L252.9,274.0 L253.3,282.7 L253.6,288.9 L253.9,295.3 L254.3,295.8 L254.7,291.9 L255.0,285.3 L255.3,278.1 L255.8,267.8 L256.0,272.5 L256.4,279.9 L256.7,287.0 L257.1,293.7 L257.4,295.1 L257.8,292.0 L258.1,285.8 L258.5,291.8 L258.6,293.1 L262.1,298.3 L264.3,302.1 L266.1,301.2 L266.5,344.8 Z" fill="#0000ff" fill-opacity="0.45" stroke="#000" stroke-opacity="0.52" stroke-width="0.28" stroke-linejoin="round"/>
<path d="M226.5,344.8 L228.2,343.0 L230.2,341.1 L231.8,334.2 L234.4,324.5 L235.7,317.6 L237.2,311.9 L240.2,309.2 L241.5,308.7 L241.8,308.0 L242.2,301.5 L242.5,296.4 L242.8,290.2 L243.2,283.7 L243.6,275.0 L243.9,279.8 L244.2,286.4 L244.6,285.8 L244.9,278.6 L245.3,271.0 L245.6,263.0 L246.0,254.6 L246.4,244.0 L246.7,251.2 L247.0,258.9 L247.4,267.1 L247.7,274.9 L248.1,282.2 L248.2,281.2 L249.7,285.4 L251.2,291.7 L252.2,293.4 L252.6,288.8 L252.9,283.0 L253.4,274.5 L253.6,278.5 L254.0,284.6 L254.3,290.6 L254.7,296.1 L255.0,301.5 L255.2,303.1 L258.0,299.1 L260.9,302.6 L261.3,302.5 L261.6,297.5 L262.0,292.4 L262.5,283.9 L263.0,291.4 L263.4,290.5 L263.7,282.6 L264.1,274.6 L264.5,263.5 L264.8,269.8 L265.1,278.2 L265.5,286.3 L265.8,293.7 L266.2,302.0 L266.5,307.8 L266.9,314.2 L267.2,320.1 L267.5,325.4 L267.9,330.3 L268.2,334.7 L268.6,338.5 L268.9,341.4 L269.3,343.7 L269.6,344.8 Z" fill="#0000ff" fill-opacity="0.45" stroke="#000" stroke-opacity="0.52" stroke-width="0.28" stroke-linejoin="round"/>
<path d="M227.3,344.8 L229.1,343.0 L231.0,341.5 L232.6,334.9 L235.2,325.7 L236.5,318.9 L238.0,314.8 L241.0,312.7 L241.7,311.4 L242.0,306.6 L242.3,301.7 L242.7,296.4 L243.1,291.0 L243.4,285.4 L243.8,279.2 L244.1,284.7 L244.4,290.4 L244.8,295.8 L245.2,301.1 L245.5,306.1 L245.8,304.3 L247.5,294.2 L249.0,281.9 L250.5,286.0 L252.0,295.7 L252.2,296.1 L252.5,292.0 L252.8,285.2 L253.2,278.2 L253.6,270.0 L253.9,276.4 L254.2,283.5 L254.6,290.3 L254.9,296.8 L255.3,302.3 L256.0,303.1 L258.8,300.9 L262.3,303.1 L264.5,306.2 L266.1,305.9 L266.5,344.8 Z" fill="#0000ff" fill-opacity="0.45" stroke="#000" stroke-opacity="0.52" stroke-width="0.28" stroke-linejoin="round"/>
<path d="M226.3,344.8 L228.1,343.3 L230.0,341.9 L231.6,335.8 L234.2,328.6 L235.5,321.8 L237.0,315.8 L240.0,314.8 L242.0,311.8 L244.5,308.3 L244.8,306.9 L245.2,303.7 L245.5,298.6 L245.9,293.4 L246.2,287.9 L246.6,282.2 L246.9,276.3 L247.3,270.3 L247.6,264.0 L248.2,253.5 L248.7,262.3 L249.0,268.6 L249.3,274.7 L249.5,272.1 L249.7,267.4 L250.1,258.0 L250.4,265.6 L250.8,273.8 L251.1,281.7 L251.4,289.2 L251.8,296.4 L252.2,302.8 L252.5,304.4 L255.0,307.9 L257.8,306.2 L260.5,308.9 L260.9,309.0 L261.3,302.6 L261.6,298.1 L261.9,292.2 L262.3,286.1 L262.6,280.0 L263.0,286.6 L263.5,295.6 L264.0,304.0 L264.4,309.2 L265.9,309.9 L266.0,330.1 L266.5,334.8 L266.8,337.8 L267.2,340.4 L267.5,342.5 L267.9,344.1 L268.2,344.8 Z" fill="#0000ff" fill-opacity="0.45" stroke="#000" stroke-opacity="0.52" stroke-width="0.28" stroke-linejoin="round"/>
<path d="M227.6,344.8 L229.3,343.5 L231.3,342.3 L232.9,337.3 L235.5,330.6 L235.7,330.1 L236.0,326.0 L236.3,320.0 L236.7,313.4 L237.0,306.2 L237.4,298.5 L237.7,290.2 L238.1,281.5 L238.4,272.3 L238.8,262.6 L239.3,248.7 L239.5,255.4 L239.8,265.4 L240.2,274.9 L240.5,284.0 L240.9,292.6 L241.3,302.1 L241.6,308.3 L241.9,315.3 L242.3,318.6 L242.6,317.0 L243.0,312.1 L243.3,306.9 L243.7,301.4 L244.0,295.7 L244.4,289.7 L244.7,283.4 L245.1,276.8 L245.4,270.1 L245.8,262.8 L246.1,255.8 L246.4,250.0 L246.8,259.1 L247.2,266.3 L247.5,260.5 L247.9,251.9 L248.3,241.0 L248.6,247.9 L248.9,256.6 L249.3,265.3 L249.6,268.7 L249.9,263.2 L250.3,272.3 L250.7,270.5 L251.0,263.5 L251.4,256.2 L251.7,249.1 L252.1,256.8 L252.4,264.0 L252.8,271.1 L253.1,277.8 L253.5,284.4 L253.8,290.7 L254.2,296.7 L254.5,302.4 L254.9,307.9 L255.2,311.6 L256.3,313.0 L256.6,307.5 L257.0,301.3 L257.3,294.7 L257.7,287.8 L258.0,282.0 L258.4,290.5 L258.7,297.2 L259.1,304.0 L259.4,309.7 L259.8,311.5 L261.5,313.3 L261.9,313.6 L262.2,308.0 L262.6,301.7 L262.9,295.7 L263.3,289.1 L263.6,282.2 L264.0,275.0 L264.3,268.4 L264.8,279.1 L265.0,283.8 L265.4,290.6 L265.7,297.1 L266.1,303.3 L266.5,310.3 L266.8,314.7 L267.1,319.9 L267.5,324.7 L267.8,329.1 L268.2,333.1 L268.5,336.5 L268.9,339.6 L269.2,342.1 L269.6,343.9 L269.9,344.8 Z" fill="#0000ff" fill-opacity="0.45" stroke="#000" stroke-opacity="0.52" stroke-width="0.28" stroke-linejoin="round"/>
<path d="M226.9,344.8 L230.6,342.4 L232.2,338.2 L234.8,332.1 L237.6,323.6 L240.6,322.5 L242.6,321.5 L245.1,317.1 L247.1,309.5 L248.6,304.0 L250.2,307.3 L251.6,310.1 L253.1,313.5 L255.6,317.8 L258.4,314.3 L261.9,317.3 L264.1,317.8 L266.1,318.4 L266.5,344.8 Z" fill="#0000ff" fill-opacity="0.45" stroke="#000" stroke-opacity="0.52" stroke-width="0.28" stroke-linejoin="round"/>
<path d="M227.1,344.8 L228.8,343.5 L230.8,342.2 L232.4,337.2 L235.0,331.0 L236.3,325.1 L237.8,321.6 L240.8,320.0 L242.8,317.8 L245.3,314.4 L247.3,307.8 L248.8,297.6 L250.3,300.0 L251.8,306.6 L253.3,310.6 L255.8,313.4 L258.6,310.8 L262.1,314.0 L264.3,315.9 L266.1,315.6 L266.5,344.8 Z" fill="#0000ff" fill-opacity="0.45" stroke="#000" stroke-opacity="0.52" stroke-width="0.28" stroke-linejoin="round"/>
<path d="M226.5,344.8 L226.7,341.2 L229.0,340.6 L231.2,340.2 L232.3,344.8 Z" fill="#0000ff" fill-opacity="0.8" stroke="#000" stroke-opacity="0.65" stroke-width="0.28" stroke-linejoin="round"/>
<path d="M226.8,344.8 L228.5,343.2 L230.5,341.8 L232.1,335.8 L234.7,327.8 L236.0,322.1 L237.5,316.7 L242.5,312.9 L242.8,306.5 L243.2,281.7 L243.4,265.0 L243.5,276.8 L243.9,301.8 L244.2,310.3 L245.0,309.1 L247.0,299.2 L248.5,289.3 L249.4,291.2 L249.8,276.2 L249.9,268.9 L250.0,280.4 L250.1,290.8 L250.5,294.5 L251.5,299.2 L253.0,303.0 L255.5,308.4 L258.3,304.5 L261.8,308.4 L262.0,308.4 L262.3,294.1 L262.7,271.7 L263.0,248.8 L263.0,251.2 L263.4,276.0 L263.7,297.3 L264.0,309.1 L266.4,309.9 L266.5,344.8 Z" fill="#0000ff" fill-opacity="0.25" stroke="#000" stroke-opacity="0.5850000000000001" stroke-width="0.28" stroke-linejoin="round"/>
<path d="M226.8,344.8 L228.5,343.7 L230.5,342.7 L232.1,338.6 L234.7,333.0 L236.0,329.1 L237.5,325.4 L237.6,323.1 L237.9,307.7 L238.3,288.9 L238.5,273.2 L238.6,279.0 L239.0,299.2 L239.3,316.4 L239.7,324.2 L240.0,324.1 L240.4,314.0 L240.5,309.3 L240.7,299.8 L241.0,289.2 L241.1,294.4 L241.4,309.3 L241.8,321.8 L242.1,323.0 L242.5,322.7 L245.0,320.1 L247.0,313.3 L248.5,306.4 L250.0,308.5 L251.5,313.3 L253.0,315.9 L255.5,319.6 L258.3,316.9 L261.8,319.6 L266.4,320.6 L266.5,344.8 Z" fill="#0000ff" fill-opacity="0.25" stroke="#000" stroke-opacity="0.5850000000000001" stroke-width="0.28" stroke-linejoin="round"/>
<path d="M226.8,344.8 L228.5,343.4 L230.5,342.1 L232.1,336.7 L234.7,329.5 L236.0,324.4 L237.5,319.6 L242.5,316.2 L245.0,312.7 L247.0,303.8 L248.5,294.9 L250.0,297.6 L251.5,303.8 L253.0,307.2 L254.7,310.4 L255.0,307.2 L255.4,288.7 L255.5,294.5 L255.7,304.2 L256.1,311.4 L258.3,308.6 L258.8,309.1 L259.2,307.8 L259.5,291.7 L259.9,274.1 L259.9,271.5 L260.2,287.5 L260.6,304.1 L260.9,311.2 L261.8,312.0 L266.4,313.4 L266.5,344.8 Z" fill="#0000ff" fill-opacity="0.25" stroke="#000" stroke-opacity="0.5850000000000001" stroke-width="0.28" stroke-linejoin="round"/>
<path d="M226.8,344.8 L228.6,343.4 L230.5,342.1 L232.1,336.8 L234.7,329.6 L236.0,324.5 L237.5,319.8 L242.5,316.4 L245.0,313.0 L247.0,304.1 L248.5,295.3 L250.0,298.0 L250.9,301.7 L251.3,292.9 L251.5,280.6 L251.6,284.6 L252.0,300.1 L252.3,306.0 L253.0,307.6 L253.4,308.2 L253.7,303.3 L254.0,281.6 L254.4,305.2 L254.8,310.9 L255.5,312.3 L258.3,308.9 L261.8,312.3 L263.8,312.9 L264.0,310.0 L264.2,302.4 L264.5,287.0 L264.9,269.8 L265.1,257.7 L265.2,264.1 L265.6,281.8 L265.9,297.8 L266.3,311.9 L266.4,313.7 L266.5,319.5 L266.6,324.1 L267.0,334.0 L267.3,341.1 L267.7,344.8 Z" fill="#0000ff" fill-opacity="0.25" stroke="#000" stroke-opacity="0.5850000000000001" stroke-width="0.28" stroke-linejoin="round"/>
<path d="M226.8,344.8 L228.5,344.0 L230.5,343.3 L232.1,340.3 L234.7,336.3 L236.0,333.4 L237.5,330.8 L242.5,328.8 L245.0,326.9 L247.0,322.0 L248.5,317.0 L250.0,318.5 L251.5,322.0 L251.9,322.4 L252.2,311.9 L252.6,295.4 L252.9,275.3 L253.0,278.7 L253.3,293.3 L253.6,300.8 L254.0,276.4 L254.3,248.7 L254.7,277.3 L255.0,301.5 L255.4,321.5 L255.5,326.6 L258.3,324.6 L261.8,326.6 L266.4,327.3 L266.5,344.8 Z" fill="#0000ff" fill-opacity="0.25" stroke="#000" stroke-opacity="0.5850000000000001" stroke-width="0.28" stroke-linejoin="round"/>
<path d="M226.8,344.8 L228.5,343.6 L230.5,342.5 L232.1,337.9 L234.7,331.8 L236.0,327.4 L237.5,323.3 L242.5,320.4 L245.0,317.5 L245.3,315.9 L245.6,291.7 L245.9,271.5 L245.9,279.5 L246.3,306.0 L246.7,311.2 L247.0,309.9 L248.5,302.3 L250.0,304.6 L250.1,305.1 L250.5,279.2 L250.7,254.8 L250.8,264.6 L251.2,296.0 L251.5,309.9 L253.0,312.8 L254.0,314.4 L254.3,308.5 L254.7,291.2 L255.0,271.6 L255.4,250.4 L255.5,260.0 L255.7,272.2 L256.1,291.7 L256.4,308.9 L256.8,315.6 L258.3,314.0 L261.8,316.9 L262.0,316.9 L262.3,307.9 L262.7,293.9 L263.0,278.2 L263.2,269.4 L263.4,277.4 L263.7,292.7 L264.0,304.6 L264.1,306.9 L264.4,317.6 L266.4,318.1 L266.5,344.8 Z" fill="#0000ff" fill-opacity="0.25" stroke="#000" stroke-opacity="0.5850000000000001" stroke-width="0.28" stroke-linejoin="round"/>
<path d="M266.5,344.8 L266.9,336.5 L275.0,337.5 L295.0,341.5 L305.0,344.8 Z" fill="#0000ff" fill-opacity="0.45" stroke="#000" stroke-opacity="0.45499999999999996" stroke-width="0.28" stroke-linejoin="round"/>
<path d="M230.0,344.8 L240.0,340.5 L252.0,337.5 L262.0,336.8 L270.0,337.2 L280.0,338.5 L290.0,340.3 L300.1,342.5 L312.0,344.8 Z" fill="#ff6600" fill-opacity="0.32" stroke="#000" stroke-opacity="0.39" stroke-width="0.28" stroke-linejoin="round"/>
<path d="M266.6,344.8 L266.7,262.0 L267.6,250.0 L268.6,268.0 L269.0,300.0 L269.2,344.8 Z" fill="#ff6600" fill-opacity="0.25" stroke="#000" stroke-opacity="0.26" stroke-width="0.28" stroke-linejoin="round"/>
<path d="M268.4,344.8 L268.5,293.3 L268.8,268.9 L269.3,259.7 L270.0,266.8 L270.6,248.4 L270.9,253.1 L271.2,254.1 L271.3,250.8 L271.6,243.0 L271.8,236.9 L271.9,240.8 L272.2,251.3 L272.6,260.0 L272.8,262.0 L273.6,255.1 L274.6,259.3 L275.5,253.8 L276.2,262.3 L276.8,276.3 L277.3,290.3 L277.8,298.2 L278.8,306.1 L280.5,312.4 L283.0,320.9 L286.0,325.4 L289.4,328.1 L289.7,325.5 L290.1,322.1 L290.4,318.4 L290.8,314.6 L291.2,310.0 L291.5,313.4 L291.8,317.3 L292.2,321.0 L292.5,324.5 L292.9,327.7 L293.2,330.8 L293.6,331.6 L295.0,332.8 L302.9,334.5 L308.7,336.6 L315.0,338.3 L325.0,340.2 L340.1,342.1 L360.0,343.6 L375.0,344.8 Z" fill="#ff6600" fill-opacity="0.42" stroke="#000" stroke-opacity="0.52" stroke-width="0.28" stroke-linejoin="round"/>
<path d="M268.6,344.8 L268.7,315.2 L268.8,296.2 L269.1,276.7 L269.3,272.9 L269.6,260.4 L269.6,258.5 L270.0,246.6 L270.2,239.8 L270.4,243.6 L270.7,255.1 L270.9,262.5 L271.1,265.8 L271.4,264.1 L271.6,259.4 L271.8,256.0 L272.0,249.8 L272.2,253.2 L272.4,258.7 L272.8,265.3 L273.1,267.5 L273.9,264.3 L274.9,271.5 L275.8,266.3 L276.5,274.5 L277.1,281.8 L277.6,294.9 L278.1,303.4 L279.1,309.8 L280.9,315.3 L283.3,322.1 L286.3,327.1 L287.8,328.2 L288.2,314.0 L288.5,296.7 L288.9,284.1 L289.2,273.7 L289.3,272.2 L289.6,280.6 L289.9,292.3 L290.3,308.0 L290.6,330.3 L293.1,332.2 L293.4,331.7 L293.8,328.3 L294.1,324.6 L294.5,320.6 L294.7,318.0 L295.3,324.9 L295.5,327.4 L295.9,330.9 L296.2,334.1 L303.2,335.7 L309.0,337.2 L315.3,339.3 L325.3,340.8 L340.3,342.2 L375.3,344.8 Z" fill="#ff6600" fill-opacity="0.42" stroke="#000" stroke-opacity="0.52" stroke-width="0.28" stroke-linejoin="round"/>
<path d="M268.2,344.8 L268.3,302.2 L268.6,277.8 L269.1,276.4 L269.8,275.9 L270.4,270.3 L271.1,278.9 L271.7,263.9 L272.6,277.7 L273.4,267.9 L274.4,277.3 L275.3,267.3 L276.0,276.0 L276.6,286.9 L276.9,286.9 L277.3,275.4 L277.6,263.3 L277.8,258.0 L278.0,265.4 L278.3,277.5 L278.7,288.8 L279.0,299.0 L279.4,308.7 L279.7,317.5 L280.1,319.0 L280.4,319.9 L282.8,325.2 L285.8,328.4 L289.8,331.7 L294.8,334.7 L297.9,335.5 L298.3,308.6 L298.6,286.3 L299.0,270.4 L299.1,264.1 L299.3,271.4 L299.7,287.6 L300.0,310.7 L300.4,336.2 L302.8,336.8 L308.5,337.8 L314.8,339.7 L319.6,340.5 L319.9,338.0 L320.3,334.3 L320.6,331.1 L321.0,328.2 L321.4,324.8 L322.0,329.5 L322.4,332.6 L322.7,336.0 L323.1,340.1 L323.4,341.1 L339.9,342.6 L359.8,343.8 L374.8,344.8 Z" fill="#ff6600" fill-opacity="0.42" stroke="#000" stroke-opacity="0.52" stroke-width="0.28" stroke-linejoin="round"/>
<path d="M268.8,344.8 L268.9,307.2 L269.2,284.5 L269.7,279.7 L270.4,285.6 L271.0,278.5 L271.7,282.7 L272.3,277.1 L272.6,279.4 L273.0,269.4 L273.2,263.1 L273.3,259.2 L273.7,249.6 L274.0,258.1 L274.4,268.1 L274.7,279.7 L275.0,274.9 L275.1,271.0 L275.4,257.5 L275.8,245.9 L276.0,240.5 L276.1,245.8 L276.5,257.4 L276.6,261.4 L276.8,270.9 L277.2,287.9 L277.5,300.9 L277.7,304.9 L278.2,313.0 L279.2,316.0 L281.0,320.7 L283.4,327.2 L286.4,330.2 L290.4,333.0 L295.4,335.5 L300.3,336.7 L300.6,335.9 L301.3,332.3 L301.7,329.7 L302.4,333.2 L302.7,335.0 L303.1,336.7 L303.3,337.5 L309.1,338.8 L315.4,340.1 L325.4,341.5 L340.4,342.7 L360.4,343.9 L375.4,344.8 Z" fill="#ff6600" fill-opacity="0.42" stroke="#000" stroke-opacity="0.52" stroke-width="0.28" stroke-linejoin="round"/>
<path d="M269.0,344.8 L269.1,309.7 L269.4,294.3 L269.9,290.8 L270.1,291.0 L270.4,285.9 L270.6,277.5 L270.8,271.9 L271.1,260.6 L271.2,257.7 L271.4,250.9 L271.8,243.4 L271.9,246.9 L272.1,253.3 L272.5,263.4 L272.8,274.9 L273.2,289.9 L273.4,292.5 L274.2,283.5 L275.2,291.5 L276.1,285.0 L276.8,294.6 L277.4,300.0 L277.9,309.6 L278.4,317.3 L279.4,321.3 L281.1,325.3 L283.6,328.9 L286.6,332.1 L290.6,334.9 L295.6,336.9 L303.6,338.3 L315.6,340.6 L325.6,342.0 L340.6,343.1 L375.6,344.8 Z" fill="#ff6600" fill-opacity="0.42" stroke="#000" stroke-opacity="0.52" stroke-width="0.28" stroke-linejoin="round"/>
<path d="M269.2,344.8 L269.3,318.7 L269.6,305.4 L270.1,300.8 L270.8,303.0 L271.4,297.5 L272.0,303.4 L272.4,284.4 L272.7,269.4 L273.0,257.2 L273.4,246.2 L273.5,243.5 L273.7,251.2 L274.1,262.9 L274.4,274.9 L274.4,276.5 L274.8,269.1 L275.1,258.4 L275.5,248.8 L275.6,246.8 L275.8,253.8 L276.2,264.0 L276.3,267.5 L276.5,275.6 L276.9,282.0 L277.2,271.7 L277.5,263.2 L277.9,276.1 L278.3,286.1 L278.6,295.5 L279.0,304.3 L279.3,312.4 L279.7,319.8 L280.0,326.3 L280.4,327.1 L280.7,324.1 L281.1,319.3 L281.4,314.1 L281.8,308.5 L282.3,300.0 L282.5,303.5 L282.8,309.3 L283.2,314.8 L283.5,320.0 L283.9,324.8 L284.2,329.1 L284.6,322.1 L284.9,301.4 L285.3,287.8 L285.6,276.9 L285.8,272.2 L286.0,277.3 L286.3,288.3 L286.7,302.0 L286.8,307.9 L287.0,322.4 L287.4,335.3 L295.8,338.9 L303.8,339.9 L315.8,341.5 L325.8,342.6 L340.9,343.4 L375.8,344.8 Z" fill="#ff6600" fill-opacity="0.42" stroke="#000" stroke-opacity="0.52" stroke-width="0.28" stroke-linejoin="round"/>
<path d="M269.1,344.8 L269.2,304.5 L269.5,286.4 L270.0,279.5 L270.7,284.8 L271.3,273.2 L272.0,282.5 L272.6,274.0 L273.5,282.7 L274.3,273.3 L275.3,283.6 L276.2,277.8 L276.9,284.2 L277.5,294.5 L278.0,304.7 L278.5,310.7 L279.5,316.1 L281.2,319.9 L283.7,326.4 L286.7,330.3 L290.8,332.8 L295.7,335.6 L309.4,338.6 L315.7,339.9 L325.8,341.5 L340.8,342.7 L375.7,344.8 Z" fill="#ff6600" fill-opacity="0.42" stroke="#000" stroke-opacity="0.52" stroke-width="0.28" stroke-linejoin="round"/>
<path d="M279.0,344.8 L281.0,318.0 L283.5,314.0 L287.0,310.0 L290.0,308.7 L293.0,313.0 L295.5,324.0 L297.0,334.0 L300.0,339.0 L310.0,341.5 L330.0,344.8 Z" fill="#ff6600" fill-opacity="0.32" stroke="#000" stroke-opacity="0.52" stroke-width="0.28" stroke-linejoin="round"/>
<path d="M280.0,344.8 L283.0,330.0 L288.0,324.0 L292.0,326.0 L296.0,335.0 L305.0,340.0 L320.0,344.8 Z" fill="#ff6600" fill-opacity="0.3" stroke="#000" stroke-opacity="0.52" stroke-width="0.28" stroke-linejoin="round"/>
<path d="M283.0,344.8 L284.0,326.0 L286.5,314.0 L289.5,308.5 L292.0,311.0 L294.5,318.0 L296.5,328.0 L298.0,344.8 Z" fill="#ff6600" fill-opacity="0.35" stroke="#000" stroke-opacity="0.45499999999999996" stroke-width="0.28" stroke-linejoin="round"/>
<path d="M266.6,344.8 L266.9,339.5 L272.0,339.0 L280.2,340.0 L300.0,343.0 L306.0,344.8 Z" fill="#0000ff" fill-opacity="0.25" stroke="#000" stroke-opacity="0.45499999999999996" stroke-width="0.28" stroke-linejoin="round"/>
<path d="M325.5,344.8 L327.5,339.0 L329.2,336.2 L331.0,339.0 L333.0,344.8 Z" fill="#6a2ee0" fill-opacity="0.7" stroke="#000" stroke-opacity="0.45499999999999996" stroke-width="0.28" stroke-linejoin="round"/>
<path d="M300.0,344.8 L320.0,340.8 L340.1,342.0 L360.0,343.0 L386.5,344.8 Z" fill="#ff6600" fill-opacity="0.35" stroke="#000" stroke-opacity="0.39" stroke-width="0.28" stroke-linejoin="round"/>
<line x1="89.3" y1="211.5" x2="89.3" y2="351" stroke="#222" stroke-width="0.65" stroke-dasharray="0.9,1.6"/>
<line x1="266.6" y1="211.5" x2="266.6" y2="351" stroke="#222" stroke-width="0.65" stroke-dasharray="0.9,1.6"/>
<line x1="41.5" y1="211.3" x2="41.5" y2="351.3" stroke="#3a3a3a" stroke-width="0.6"/>
<line x1="41.2" y1="351.3" x2="218.2" y2="351.3" stroke="#3a3a3a" stroke-width="0.6"/>
<line x1="220.8" y1="351.3" x2="394.8" y2="351.3" stroke="#3a3a3a" stroke-width="0.6"/>
<line x1="40" y1="344.8" x2="41.5" y2="344.8" stroke="#3a3a3a" stroke-width="0.5"/>
<text x="39.5" y="345.1" font-size="3.76" text-anchor="end" dominant-baseline="central" textLength="11.5" lengthAdjust="spacingAndGlyphs" fill="#1a1a1a" stroke="#1a1a1a" stroke-width="0.169" font-family="Liberation Sans, sans-serif" font-weight="bold">0.0000</text>
<line x1="40" y1="313.0" x2="41.5" y2="313.0" stroke="#3a3a3a" stroke-width="0.5"/>
<text x="39.5" y="313.3" font-size="3.76" text-anchor="end" dominant-baseline="central" textLength="11.5" lengthAdjust="spacingAndGlyphs" fill="#1a1a1a" stroke="#1a1a1a" stroke-width="0.169" font-family="Liberation Sans, sans-serif" font-weight="bold">0.0025</text>
<line x1="40" y1="281.2" x2="41.5" y2="281.2" stroke="#3a3a3a" stroke-width="0.5"/>
<text x="39.5" y="281.5" font-size="3.76" text-anchor="end" dominant-baseline="central" textLength="11.5" lengthAdjust="spacingAndGlyphs" fill="#1a1a1a" stroke="#1a1a1a" stroke-width="0.169" font-family="Liberation Sans, sans-serif" font-weight="bold">0.0050</text>
<line x1="40" y1="249.4" x2="41.5" y2="249.4" stroke="#3a3a3a" stroke-width="0.5"/>
<text x="39.5" y="249.70000000000002" font-size="3.76" text-anchor="end" dominant-baseline="central" textLength="11.5" lengthAdjust="spacingAndGlyphs" fill="#1a1a1a" stroke="#1a1a1a" stroke-width="0.169" font-family="Liberation Sans, sans-serif" font-weight="bold">0.0075</text>
<line x1="40" y1="217.60000000000002" x2="41.5" y2="217.60000000000002" stroke="#3a3a3a" stroke-width="0.5"/>
<text x="39.5" y="217.90000000000003" font-size="3.76" text-anchor="end" dominant-baseline="central" textLength="11.5" lengthAdjust="spacingAndGlyphs" fill="#1a1a1a" stroke="#1a1a1a" stroke-width="0.169" font-family="Liberation Sans, sans-serif" font-weight="bold">0.0100</text>
<text x="59.8" y="354.6" font-size="4.0" text-anchor="middle" dominant-baseline="central" fill="#1a1a1a" stroke="#1a1a1a" stroke-width="0.18" font-family="Liberation Sans, sans-serif" font-weight="bold">0</text>
<text x="93.1" y="354.6" font-size="4.0" text-anchor="middle" dominant-baseline="central" fill="#1a1a1a" stroke="#1a1a1a" stroke-width="0.18" font-family="Liberation Sans, sans-serif" font-weight="bold">1000</text>
<text x="126.39999999999999" y="354.6" font-size="4.0" text-anchor="middle" dominant-baseline="central" fill="#1a1a1a" stroke="#1a1a1a" stroke-width="0.18" font-family="Liberation Sans, sans-serif" font-weight="bold">2000</text>
<text x="159.7" y="354.6" font-size="4.0" text-anchor="middle" dominant-baseline="central" fill="#1a1a1a" stroke="#1a1a1a" stroke-width="0.18" font-family="Liberation Sans, sans-serif" font-weight="bold">3000</text>
<text x="193.0" y="354.6" font-size="4.0" text-anchor="middle" dominant-baseline="central" fill="#1a1a1a" stroke="#1a1a1a" stroke-width="0.18" font-family="Liberation Sans, sans-serif" font-weight="bold">4000</text>
<text x="236.8" y="354.6" font-size="4.0" text-anchor="middle" dominant-baseline="central" fill="#1a1a1a" stroke="#1a1a1a" stroke-width="0.18" font-family="Liberation Sans, sans-serif" font-weight="bold">0</text>
<text x="270.1" y="354.6" font-size="4.0" text-anchor="middle" dominant-baseline="central" fill="#1a1a1a" stroke="#1a1a1a" stroke-width="0.18" font-family="Liberation Sans, sans-serif" font-weight="bold">1000</text>
<text x="303.4" y="354.6" font-size="4.0" text-anchor="middle" dominant-baseline="central" fill="#1a1a1a" stroke="#1a1a1a" stroke-width="0.18" font-family="Liberation Sans, sans-serif" font-weight="bold">2000</text>
<text x="336.7" y="354.6" font-size="4.0" text-anchor="middle" dominant-baseline="central" fill="#1a1a1a" stroke="#1a1a1a" stroke-width="0.18" font-family="Liberation Sans, sans-serif" font-weight="bold">3000</text>
<text x="370.0" y="354.6" font-size="4.0" text-anchor="middle" dominant-baseline="central" fill="#1a1a1a" stroke="#1a1a1a" stroke-width="0.18" font-family="Liberation Sans, sans-serif" font-weight="bold">4000</text>
<text x="0" y="0" transform="translate(25,281) rotate(-90)" font-size="3.9" text-anchor="middle" dominant-baseline="central" textLength="14.5" lengthAdjust="spacingAndGlyphs" fill="#1a1a1a" stroke="#1a1a1a" stroke-width="0.175" font-family="Liberation Sans, sans-serif" font-weight="bold">Density</text>
<text x="129.4" y="358.6" font-size="3.85" text-anchor="middle" dominant-baseline="central" textLength="35.4" lengthAdjust="spacingAndGlyphs" fill="#1a1a1a" stroke="#1a1a1a" stroke-width="0.173" font-family="Liberation Sans, sans-serif" font-weight="bold">Reaction Time (ms)</text>
<text x="306.5" y="358.8" font-size="3.85" text-anchor="middle" dominant-baseline="central" textLength="35.4" lengthAdjust="spacingAndGlyphs" fill="#1a1a1a" stroke="#1a1a1a" stroke-width="0.173" font-family="Liberation Sans, sans-serif" font-weight="bold">Reaction Time (ms)</text>
<text x="129.45" y="207.9" font-size="4.5" text-anchor="middle" dominant-baseline="central" textLength="25.3" lengthAdjust="spacingAndGlyphs" fill="#1a1a1a" stroke="#1a1a1a" stroke-width="0.202" font-family="Liberation Sans, sans-serif" font-weight="bold">Before Rule</text>
<text x="306.9" y="207.9" font-size="4.45" text-anchor="middle" dominant-baseline="central" textLength="21.2" lengthAdjust="spacingAndGlyphs" fill="#1a1a1a" stroke="#1a1a1a" stroke-width="0.2" font-family="Liberation Sans, sans-serif" font-weight="bold">After Rule</text>
<text x="28.2" y="200.8" font-size="7.0" text-anchor="middle" dominant-baseline="central" fill="#1a1a1a" stroke="#1a1a1a" stroke-width="0.315" font-family="Liberation Sans, sans-serif" font-weight="bold">B</text>
<text x="71.7" y="228.2" font-size="5.2" text-anchor="middle" dominant-baseline="central" textLength="10.3" lengthAdjust="spacingAndGlyphs" fill="#1a1a1a" stroke="#1a1a1a" stroke-width="0.234" font-family="Liberation Sans, sans-serif" font-weight="bold">46%</text>
<text x="115.9" y="228.2" font-size="5.2" text-anchor="middle" dominant-baseline="central" textLength="10.5" lengthAdjust="spacingAndGlyphs" fill="#1a1a1a" stroke="#1a1a1a" stroke-width="0.234" font-family="Liberation Sans, sans-serif" font-weight="bold">54%</text>
<text x="248" y="228.2" font-size="5.2" text-anchor="middle" dominant-baseline="central" textLength="10.5" lengthAdjust="spacingAndGlyphs" fill="#1a1a1a" stroke="#1a1a1a" stroke-width="0.234" font-family="Liberation Sans, sans-serif" font-weight="bold">64%</text>
<text x="292.4" y="228.2" font-size="5.2" text-anchor="middle" dominant-baseline="central" textLength="10.5" lengthAdjust="spacingAndGlyphs" fill="#1a1a1a" stroke="#1a1a1a" stroke-width="0.234" font-family="Liberation Sans, sans-serif" font-weight="bold">36%</text>
<rect x="398.6" y="278.4" width="3.4" height="3.4" fill="#8080ff" stroke="#6060e0" stroke-width="0.3"/>
<rect x="398.6" y="282.4" width="3.4" height="3.4" fill="#ffb080" stroke="#e09060" stroke-width="0.3"/>
<text x="403.4" y="280.3" font-size="3.8" text-anchor="start" dominant-baseline="central" textLength="26.4" lengthAdjust="spacingAndGlyphs" fill="#1a1a1a" stroke="#1a1a1a" stroke-width="0.171" font-family="Liberation Sans, sans-serif" font-weight="normal">fast responder</text>
<text x="403.4" y="284.3" font-size="3.8" text-anchor="start" dominant-baseline="central" textLength="28.6" lengthAdjust="spacingAndGlyphs" fill="#1a1a1a" stroke="#1a1a1a" stroke-width="0.171" font-family="Liberation Sans, sans-serif" font-weight="normal">slow responder</text>
</svg></body></html>
